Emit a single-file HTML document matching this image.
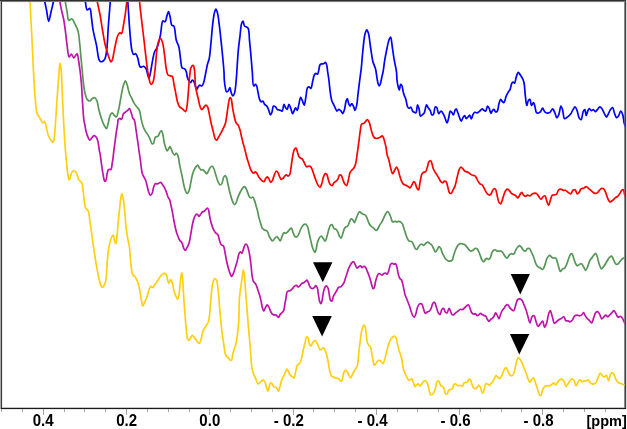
<!DOCTYPE html>
<html><head><meta charset="utf-8"><style>
html,body{margin:0;padding:0;background:#fff;}
body{width:627px;height:429px;overflow:hidden;position:relative;}
svg{position:absolute;left:0;top:0;display:block;}
text{font-family:"Liberation Sans",Arial,sans-serif;font-weight:bold;font-size:16px;fill:#000;}
</style></head><body>
<svg width="627" height="429" viewBox="0 0 627 429">
<defs><clipPath id="c"><rect x="1.6" y="0.8" width="623" height="406.8"/></clipPath></defs>
<g shape-rendering="crispEdges">
<rect x="2" y="2" width="622" height="1" fill="#f6f6f6"/>
<rect x="2" y="3" width="1" height="404" fill="#ececec"/>
<rect x="624" y="1" width="1" height="407" fill="#8a8a8a"/>
<rect x="2" y="407" width="622" height="1" fill="#c4c4c4"/>
</g>
<g clip-path="url(#c)" fill="none" stroke-width="1.7" stroke-linejoin="round" stroke-linecap="round">
<path d="M43.50,-10.00 C43.83,-6.67 44.00,-3.32 44.50,0.00 C45.00,3.35 45.82,6.56 46.50,10.00 C47.22,13.65 47.91,21.28 48.70,21.30 C49.42,21.32 50.22,15.30 51.00,12.00 C51.88,8.26 53.12,3.84 53.70,0.00 C54.23,-3.47 52.22,-7.89 54.50,-10.00 C58.41,-13.61 79.94,-13.60 84.00,-10.00 C86.37,-7.90 84.67,-3.32 85.20,0.00 C85.73,3.34 85.94,9.45 87.20,10.00 C87.89,10.30 89.13,8.10 89.80,8.40 C91.00,8.94 90.98,14.60 91.50,18.00 C92.09,21.82 92.34,25.93 93.10,30.20 C93.95,34.98 95.51,40.32 96.50,45.30 C97.46,50.12 97.83,57.03 99.00,59.60 C99.50,60.71 99.98,61.50 100.70,61.70 C101.44,61.90 102.67,61.23 103.40,60.70 C104.09,60.20 104.55,59.67 105.00,58.70 C105.83,56.92 106.22,53.87 106.70,50.30 C107.52,44.19 107.78,33.57 108.40,25.20 C109.02,16.81 109.95,6.49 110.40,0.00 C110.68,-4.09 109.02,-8.14 111.00,-10.00 C113.50,-12.35 124.48,-12.35 127.00,-10.00 C129.00,-8.14 127.35,-4.61 127.70,0.00 C128.49,10.34 130.12,42.84 131.90,50.30 C132.43,52.54 132.80,54.16 133.60,54.50 C134.15,54.74 135.01,53.48 135.60,53.70 C136.47,54.03 137.04,56.19 137.70,57.90 C138.64,60.34 138.82,66.24 140.30,67.10 C141.18,67.62 142.64,66.03 143.60,66.30 C144.58,66.58 145.44,67.67 146.10,68.80 C146.99,70.33 147.25,73.25 147.80,75.00 C148.21,76.31 148.62,78.42 149.00,78.40 C149.46,78.38 149.79,75.66 150.30,73.40 C151.36,68.76 152.86,56.30 154.50,52.00 C155.28,49.96 156.22,49.64 157.00,47.80 C158.28,44.79 159.43,39.55 160.40,35.20 C161.42,30.63 161.36,21.89 162.90,21.00 C163.52,20.64 164.49,22.10 165.10,21.80 C166.15,21.27 166.45,16.94 167.10,15.10 C167.57,13.76 168.04,11.68 168.50,11.70 C169.05,11.72 169.60,14.87 170.10,16.80 C170.73,19.24 170.73,23.91 171.80,25.20 C172.34,25.85 173.23,25.30 173.80,26.00 C175.28,27.83 175.23,36.47 176.30,40.30 C177.05,43.00 178.23,44.41 178.90,47.00 C179.76,50.32 179.91,55.03 180.50,58.70 C181.02,61.98 180.97,66.60 182.20,68.00 C182.85,68.74 184.03,68.24 184.70,68.80 C185.49,69.46 185.99,70.79 186.40,72.00 C186.87,73.38 186.77,75.20 187.20,76.70 C187.62,78.16 188.21,79.86 188.90,80.90 C189.40,81.66 190.07,82.66 190.60,82.60 C191.21,82.54 191.69,80.06 192.30,80.00 C192.83,79.94 193.52,80.90 194.00,81.70 C194.72,82.89 195.01,85.42 195.60,86.80 C196.03,87.81 196.56,89.31 197.00,89.30 C197.43,89.29 197.71,87.52 198.20,86.80 C198.65,86.14 199.20,85.21 199.80,85.10 C200.37,84.99 201.14,86.16 201.70,86.00 C202.38,85.81 202.92,84.52 203.40,83.40 C204.12,81.73 204.56,78.74 205.00,76.70 C205.37,75.00 205.54,73.78 205.90,72.00 C206.37,69.64 206.98,66.20 207.60,63.80 C208.10,61.89 208.74,60.88 209.20,58.70 C209.98,55.03 210.36,48.88 210.90,43.60 C211.50,37.77 211.96,30.65 212.60,25.20 C213.12,20.82 213.55,16.31 214.30,13.40 C214.76,11.61 215.35,9.21 215.90,9.20 C216.45,9.19 217.12,11.61 217.60,13.40 C218.38,16.30 218.76,21.02 219.30,25.20 C219.91,29.92 220.45,35.14 221.00,40.30 C221.58,45.73 222.19,51.58 222.70,57.00 C223.18,62.13 223.74,67.78 224.00,72.00 C224.19,75.08 224.08,77.45 224.30,80.00 C224.50,82.36 224.79,84.72 225.20,86.80 C225.55,88.61 225.75,91.45 226.50,91.80 C226.95,92.01 227.70,91.49 228.20,91.00 C228.91,90.31 229.42,87.55 229.90,87.60 C230.46,87.66 230.64,91.21 231.20,92.70 C231.67,93.95 232.33,95.98 232.90,96.00 C233.40,96.02 233.99,94.58 234.40,93.50 C235.02,91.85 235.26,89.36 235.60,86.80 C236.04,83.43 236.24,79.65 236.60,75.00 C237.12,68.27 237.64,57.28 238.30,50.30 C238.78,45.15 239.35,41.37 239.90,36.90 C240.45,32.43 240.73,26.15 241.60,23.50 C242.00,22.28 242.57,20.95 243.00,21.00 C243.57,21.06 243.74,25.10 244.50,26.00 C244.94,26.53 245.55,26.45 246.10,26.80 C246.78,27.23 247.66,27.51 248.20,28.50 C249.33,30.57 249.06,35.93 249.50,40.30 C250.05,45.75 250.71,53.06 251.20,58.70 C251.62,63.49 251.89,67.51 252.30,72.00 C252.72,76.61 252.59,85.61 253.70,86.00 C254.16,86.16 254.89,84.27 255.40,84.30 C255.88,84.33 256.34,85.21 256.70,86.00 C257.30,87.31 257.46,89.74 257.90,91.80 C258.41,94.16 258.85,97.60 259.60,99.40 C260.06,100.51 260.57,101.73 261.20,101.90 C261.71,102.03 262.40,100.84 262.90,101.00 C263.60,101.22 263.88,103.52 264.60,104.40 C265.22,105.15 266.16,105.31 266.80,106.10 C267.63,107.12 268.19,108.85 268.80,110.30 C269.43,111.81 269.91,114.94 270.50,115.00 C270.92,115.04 271.40,113.77 271.80,112.80 C272.46,111.21 272.53,106.59 273.50,106.10 C274.04,105.82 274.92,106.43 275.50,106.90 C276.19,107.45 276.54,108.89 277.20,109.40 C277.71,109.79 278.34,109.85 278.90,110.00 C279.44,110.14 279.97,110.13 280.50,110.30 C281.07,110.48 281.73,111.32 282.20,111.10 C283.11,110.67 283.22,104.47 283.90,104.40 C284.40,104.35 284.96,106.92 285.60,107.80 C286.09,108.48 286.73,109.51 287.20,109.40 C287.92,109.23 288.28,104.44 288.90,104.40 C289.43,104.36 290.05,106.50 290.60,107.80 C291.30,109.46 291.90,113.55 292.60,113.60 C293.15,113.64 293.77,111.32 294.30,110.30 C294.76,109.41 295.11,107.83 295.60,107.80 C296.11,107.77 296.81,110.39 297.30,110.30 C298.04,110.17 298.42,105.80 299.00,103.60 C299.56,101.47 300.03,97.36 300.70,97.30 C301.23,97.25 301.93,99.72 302.50,101.00 C303.10,102.35 303.70,105.25 304.20,105.20 C304.89,105.14 305.35,99.67 305.90,96.80 C306.48,93.81 306.58,88.96 307.60,87.60 C308.05,87.01 308.69,86.72 309.20,86.80 C309.79,86.90 310.42,88.63 310.90,88.50 C311.72,88.27 312.03,83.96 312.60,81.70 C313.16,79.46 313.50,76.41 314.30,75.00 C314.76,74.20 315.32,73.50 315.90,73.40 C316.43,73.31 317.15,74.40 317.60,74.20 C318.28,73.89 318.41,71.49 318.80,70.00 C319.24,68.32 319.32,65.55 320.10,64.60 C320.55,64.05 321.22,63.93 321.80,63.80 C322.35,63.68 322.94,63.98 323.50,63.80 C324.17,63.59 324.97,62.25 325.50,62.40 C326.11,62.57 326.46,64.18 326.80,65.40 C327.29,67.15 327.37,69.70 327.70,72.00 C328.06,74.54 328.52,77.07 328.90,80.00 C329.36,83.55 329.66,88.12 330.20,91.80 C330.68,95.07 331.14,98.72 331.90,101.00 C332.39,102.45 333.05,103.26 333.60,104.40 C334.15,105.53 334.65,106.68 335.20,107.80 C335.75,108.91 336.21,110.96 336.90,111.10 C337.48,111.21 338.21,109.42 338.90,109.40 C339.61,109.38 340.46,110.42 341.10,111.10 C341.77,111.81 342.28,113.66 342.80,113.60 C343.44,113.53 344.01,111.07 344.50,109.40 C345.18,107.11 345.46,102.95 346.10,101.00 C346.47,99.89 346.93,98.47 347.30,98.50 C347.82,98.55 348.16,102.22 348.70,103.60 C349.09,104.61 349.51,106.07 350.00,106.10 C350.51,106.13 351.13,103.60 351.70,103.60 C352.27,103.60 352.89,105.12 353.40,106.10 C354.02,107.29 354.47,110.31 355.00,110.30 C355.58,110.29 356.25,107.21 356.70,105.20 C357.32,102.45 357.50,98.54 357.90,95.20 C358.30,91.84 358.68,88.47 359.10,85.10 C359.52,81.73 360.01,78.06 360.40,75.00 C360.73,72.45 360.99,70.87 361.30,68.00 C361.80,63.45 362.26,56.11 362.90,50.30 C363.53,44.65 364.09,37.12 365.10,33.60 C365.60,31.87 366.23,29.90 366.80,29.90 C367.37,29.90 368.00,31.94 368.50,33.60 C369.40,36.63 369.78,42.41 370.50,47.00 C371.27,51.86 371.95,58.02 373.00,62.00 C373.73,64.75 374.87,66.42 375.50,68.80 C376.16,71.30 376.37,74.18 376.80,76.70 C377.20,79.03 377.46,81.73 378.00,83.40 C378.34,84.46 378.79,85.89 379.20,85.90 C379.62,85.91 380.12,84.47 380.50,83.40 C381.09,81.74 381.44,78.77 381.90,76.70 C382.30,74.91 382.72,73.71 383.10,71.70 C383.67,68.70 384.08,64.19 384.70,60.40 C385.34,56.53 386.14,52.27 386.90,48.70 C387.55,45.66 388.10,42.38 388.90,40.30 C389.41,38.97 390.12,37.12 390.60,37.20 C391.41,37.33 391.76,43.58 392.30,47.00 C392.89,50.72 393.33,54.68 394.00,58.70 C394.72,63.00 396.02,68.11 396.50,72.00 C396.87,74.99 396.70,77.45 397.00,80.00 C397.28,82.37 397.73,84.95 398.20,86.80 C398.53,88.11 398.94,90.12 399.30,90.10 C399.77,90.08 400.06,84.44 400.70,84.30 C401.07,84.22 401.64,85.14 402.00,85.90 C402.61,87.20 402.78,90.11 403.20,91.80 C403.52,93.10 403.79,94.02 404.20,95.20 C404.67,96.54 405.39,97.77 405.90,99.40 C406.56,101.52 406.74,105.46 407.60,106.90 C408.05,107.66 408.64,108.26 409.20,108.30 C409.74,108.34 410.41,107.05 410.90,107.20 C411.62,107.42 411.89,110.23 412.60,111.10 C413.10,111.71 413.72,112.01 414.30,112.30 C414.82,112.56 415.45,113.06 415.90,112.80 C416.88,112.23 416.97,104.95 417.60,104.90 C418.04,104.87 418.58,107.13 419.00,108.60 C419.59,110.64 419.54,115.73 420.50,116.10 C421.07,116.32 422.05,115.07 422.70,114.50 C423.30,113.97 423.82,113.66 424.30,112.80 C425.21,111.19 425.67,105.01 426.50,104.90 C427.03,104.83 427.57,106.89 428.20,107.80 C428.81,108.69 429.63,109.28 430.20,110.30 C430.91,111.57 431.13,114.72 431.90,115.00 C432.39,115.17 433.13,114.64 433.60,114.00 C434.50,112.77 434.29,107.32 435.20,106.90 C435.67,106.69 436.42,107.21 436.90,107.80 C437.75,108.84 437.74,113.38 438.60,113.60 C439.26,113.77 440.30,111.04 441.10,111.10 C441.97,111.17 442.91,113.26 443.60,114.50 C444.32,115.79 444.73,117.30 445.30,118.70 C445.87,120.10 446.46,122.92 447.00,122.90 C447.59,122.88 448.18,119.63 448.70,117.80 C449.29,115.73 449.50,111.33 450.30,111.10 C450.77,110.97 451.49,112.17 452.00,112.80 C452.53,113.46 452.97,115.05 453.40,115.00 C454.00,114.93 454.39,111.37 455.00,110.30 C455.37,109.65 455.81,108.84 456.20,108.90 C456.79,108.99 457.36,111.41 457.90,112.80 C458.50,114.35 459.00,116.31 459.60,117.80 C460.11,119.06 460.65,121.19 461.20,121.20 C461.75,121.21 462.28,118.78 462.90,117.80 C463.43,116.96 464.06,115.56 464.60,115.60 C465.21,115.65 465.67,118.61 466.30,118.70 C466.82,118.77 467.46,117.61 468.00,117.00 C468.56,116.37 469.11,114.93 469.60,115.00 C470.24,115.09 470.75,119.01 471.30,119.00 C471.88,118.99 472.33,115.70 473.00,114.50 C473.51,113.59 473.98,112.57 474.70,112.30 C475.39,112.04 476.40,112.96 477.20,112.80 C478.07,112.62 478.89,111.73 479.70,111.10 C480.55,110.44 481.44,108.91 482.20,108.90 C482.82,108.89 483.31,109.93 483.90,110.30 C484.45,110.65 485.10,111.30 485.60,111.10 C486.45,110.76 486.88,106.18 487.60,106.10 C488.14,106.04 488.80,107.60 489.30,108.60 C489.94,109.89 490.29,113.24 490.90,113.30 C491.41,113.35 491.97,110.96 492.60,110.30 C493.04,109.84 493.56,109.30 494.00,109.40 C494.58,109.53 494.97,111.72 495.60,111.90 C496.10,112.05 496.83,111.69 497.30,111.10 C498.25,109.91 498.34,105.72 499.00,103.60 C499.51,101.97 500.06,99.49 500.70,99.40 C501.19,99.33 501.75,100.92 502.30,101.50 C502.76,101.98 503.29,102.78 503.70,102.70 C504.21,102.60 504.62,101.14 505.00,100.20 C505.45,99.08 505.61,97.67 506.10,96.40 C506.63,95.04 507.39,93.54 508.10,92.30 C508.73,91.20 509.54,90.53 510.10,89.30 C510.85,87.67 511.02,84.32 511.80,83.20 C512.21,82.62 512.73,82.20 513.20,82.20 C513.67,82.20 514.20,83.35 514.60,83.20 C515.37,82.92 515.54,78.98 516.20,77.10 C516.80,75.40 517.53,72.48 518.30,72.40 C518.92,72.33 519.64,74.17 520.30,75.10 C520.98,76.07 521.72,76.99 522.30,78.10 C522.94,79.33 523.46,80.38 523.90,82.20 C524.70,85.47 524.85,92.20 525.40,96.40 C525.84,99.78 526.20,105.45 526.80,105.50 C527.26,105.53 527.64,101.39 528.40,100.40 C528.85,99.81 529.56,99.22 530.00,99.40 C530.79,99.73 530.68,105.36 531.40,105.50 C531.95,105.61 532.93,102.42 533.50,102.50 C534.12,102.58 534.45,105.02 534.90,106.50 C535.45,108.31 535.56,111.71 536.50,112.60 C537.03,113.10 537.85,113.13 538.50,113.00 C539.22,112.86 539.98,112.27 540.60,111.60 C541.39,110.76 541.93,108.10 542.60,108.10 C543.27,108.10 543.81,110.76 544.60,111.60 C545.22,112.27 545.90,112.81 546.70,113.00 C547.58,113.20 548.79,113.11 549.70,112.60 C550.84,111.96 551.83,108.83 552.70,108.90 C553.52,108.97 554.15,111.24 554.80,112.60 C555.53,114.14 556.05,117.63 556.80,117.70 C557.41,117.76 558.22,115.95 558.80,114.60 C559.70,112.52 560.14,106.17 560.90,106.10 C561.41,106.05 562.01,108.13 562.50,109.60 C563.27,111.89 563.37,118.16 564.50,118.70 C565.05,118.96 565.84,118.10 566.50,117.70 C567.21,117.27 567.91,116.81 568.60,116.20 C569.41,115.49 570.30,114.62 571.00,113.60 C571.79,112.46 572.26,110.77 573.00,109.60 C573.65,108.58 574.45,106.85 575.10,106.90 C575.82,106.96 576.50,109.13 577.10,110.60 C577.89,112.55 578.18,116.13 579.10,117.70 C579.67,118.67 580.53,119.86 581.10,119.70 C582.08,119.43 582.33,113.34 583.20,111.60 C583.68,110.64 584.36,109.50 584.80,109.60 C585.49,109.76 585.68,115.57 586.20,115.60 C586.63,115.62 587.07,112.83 587.60,111.60 C588.08,110.48 588.55,108.60 589.20,108.50 C589.80,108.41 590.56,110.48 591.30,110.60 C591.94,110.70 592.67,109.50 593.30,109.60 C594.01,109.72 594.62,111.59 595.30,111.60 C595.99,111.61 596.69,110.33 597.40,109.60 C598.19,108.78 599.00,106.97 599.80,106.90 C600.47,106.84 601.20,107.76 601.80,108.50 C602.61,109.49 603.14,111.21 603.90,112.60 C604.70,114.08 605.69,117.10 606.50,117.10 C607.21,117.10 607.85,114.81 608.50,113.60 C609.18,112.32 609.73,110.67 610.50,109.60 C611.13,108.73 612.00,107.36 612.60,107.50 C613.48,107.71 613.87,111.79 614.60,113.60 C615.22,115.13 615.82,117.57 616.60,117.70 C617.23,117.81 618.08,116.51 618.70,115.60 C619.50,114.42 620.00,111.03 620.70,111.00 C621.34,110.97 622.17,113.11 622.70,114.60 C623.44,116.71 623.47,120.31 624.10,122.70 C624.62,124.68 625.37,126.23 626.00,128.00" stroke="#0000ff"/>
<path d="M96.00,-10.00 C96.33,-6.67 96.45,-3.63 97.00,0.00 C97.67,4.40 99.09,9.58 100.00,14.50 C100.93,19.57 101.65,24.97 102.50,30.00 C103.31,34.79 104.06,39.87 105.00,44.00 C105.76,47.35 106.68,50.31 107.50,53.00 C108.18,55.21 108.85,57.36 109.50,59.00 C109.97,60.19 110.39,61.96 110.90,62.00 C111.34,62.04 111.88,60.98 112.30,60.00 C113.15,58.03 113.66,53.41 114.30,50.30 C114.89,47.43 115.40,44.53 116.00,42.00 C116.51,39.83 116.85,37.65 117.60,36.00 C118.20,34.68 119.02,32.90 119.80,32.70 C120.34,32.56 121.01,33.82 121.50,33.60 C122.53,33.13 122.83,28.72 123.50,25.20 C124.60,19.36 126.15,8.19 126.80,1.70 C127.26,-2.86 125.44,-8.06 127.50,-10.00 C129.54,-11.92 137.08,-11.85 139.00,-10.00 C140.79,-8.28 139.07,-4.36 139.40,0.00 C140.04,8.29 142.10,24.00 143.50,36.00 C144.90,48.00 146.79,65.26 147.80,72.00 C148.20,74.64 148.43,75.71 148.80,77.50 C149.16,79.24 149.40,81.36 150.00,82.60 C150.41,83.44 151.01,84.54 151.50,84.50 C152.08,84.46 152.72,82.88 153.20,81.50 C154.09,78.96 154.38,74.63 155.00,70.00 C155.93,63.01 156.38,48.97 157.90,43.60 C158.61,41.08 159.59,38.32 160.40,38.30 C161.08,38.28 161.83,40.32 162.40,42.00 C163.43,45.02 163.95,50.91 164.60,55.40 C165.25,59.91 165.57,65.40 166.30,69.00 C166.79,71.43 167.00,73.93 168.00,75.00 C168.65,75.70 169.72,75.60 170.50,75.90 C171.21,76.17 171.99,76.08 172.50,76.70 C173.42,77.81 173.33,81.04 173.80,83.40 C174.32,86.04 174.91,88.87 175.50,91.80 C176.14,95.01 176.64,99.16 177.50,101.90 C178.13,103.90 178.74,105.75 179.70,106.90 C180.41,107.75 181.47,108.00 182.20,108.60 C182.85,109.14 183.32,109.79 183.90,110.30 C184.45,110.78 185.14,111.75 185.60,111.60 C186.29,111.37 186.54,108.84 186.90,106.90 C187.47,103.89 187.72,99.36 188.10,95.20 C188.53,90.47 188.84,84.65 189.30,80.00 C189.69,76.03 190.00,71.34 190.60,69.00 C190.89,67.84 191.12,67.12 191.60,66.50 C192.00,65.99 192.68,65.26 193.10,65.40 C193.77,65.62 194.13,67.96 194.50,70.00 C195.20,73.82 194.88,81.73 195.60,86.80 C196.21,91.08 197.38,94.93 198.20,98.50 C198.90,101.53 199.40,104.92 200.20,106.90 C200.68,108.10 201.21,109.53 201.80,109.60 C202.32,109.66 202.89,108.46 203.50,107.80 C204.23,107.01 205.16,105.21 205.90,105.20 C206.51,105.19 207.13,106.05 207.60,106.90 C208.40,108.33 208.68,111.24 209.20,113.60 C209.78,116.24 210.24,119.08 210.90,122.00 C211.62,125.22 212.62,129.07 213.40,132.10 C214.04,134.59 214.41,137.58 215.20,138.90 C215.61,139.59 216.14,140.26 216.60,140.20 C217.18,140.13 217.68,138.60 218.30,137.60 C219.11,136.27 220.14,134.50 221.00,132.90 C221.87,131.27 222.74,129.58 223.50,127.90 C224.24,126.25 224.97,124.77 225.50,122.90 C226.13,120.66 226.36,118.11 226.80,115.30 C227.35,111.82 227.88,106.83 228.50,103.60 C228.94,101.29 229.22,97.95 229.90,97.70 C230.22,97.58 230.68,97.98 231.00,98.50 C231.89,99.94 232.11,105.39 232.70,108.60 C233.24,111.53 233.78,114.46 234.40,117.00 C234.93,119.15 235.29,121.41 236.10,122.90 C236.70,123.99 237.69,124.39 238.30,125.40 C239.00,126.57 239.41,127.98 239.90,129.60 C240.54,131.72 241.07,134.87 241.60,137.10 C242.03,138.91 242.32,140.17 242.80,142.00 C243.41,144.35 244.35,147.44 245.00,150.00 C245.60,152.35 245.98,154.55 246.60,156.80 C247.22,159.05 248.04,161.43 248.70,163.50 C249.27,165.29 249.70,167.01 250.30,168.50 C250.81,169.76 251.33,171.08 252.00,171.90 C252.51,172.51 253.13,173.20 253.70,173.20 C254.27,173.20 254.86,171.86 255.40,171.90 C255.96,171.95 256.50,172.90 257.00,173.60 C257.63,174.49 258.05,175.91 258.70,176.90 C259.30,177.82 260.04,178.66 260.70,179.40 C261.27,180.04 261.78,180.73 262.40,181.10 C262.93,181.41 263.60,181.81 264.10,181.60 C264.82,181.29 265.15,179.12 265.80,178.30 C266.29,177.68 266.89,176.84 267.40,176.90 C268.00,176.98 268.55,178.53 269.10,179.40 C269.68,180.32 270.19,182.25 270.80,182.30 C271.34,182.35 272.00,181.18 272.50,180.30 C273.21,179.04 273.54,176.80 274.20,175.20 C274.82,173.71 275.55,171.12 276.30,171.00 C276.84,170.91 277.50,171.94 278.00,172.70 C278.69,173.74 279.06,175.71 279.70,176.90 C280.22,177.87 280.76,179.27 281.40,179.40 C281.92,179.51 282.58,178.79 283.10,178.30 C283.70,177.73 284.11,176.69 284.70,176.10 C285.22,175.59 285.83,174.90 286.40,174.90 C286.97,174.90 287.55,176.15 288.10,176.10 C288.69,176.05 289.36,175.23 289.80,174.40 C290.49,173.09 290.54,170.73 290.90,168.50 C291.37,165.61 291.80,161.51 292.30,158.50 C292.71,156.01 293.08,153.49 293.60,151.70 C293.96,150.48 294.27,149.28 294.80,148.70 C295.14,148.33 295.65,147.96 296.00,148.10 C296.59,148.33 296.85,150.39 297.30,151.70 C297.84,153.25 298.25,155.66 299.00,156.80 C299.49,157.54 300.11,157.92 300.70,158.30 C301.22,158.63 301.84,158.58 302.30,159.00 C302.89,159.53 303.26,160.63 303.70,161.50 C304.16,162.40 304.50,163.41 305.00,164.30 C305.50,165.18 306.01,166.59 306.70,166.80 C307.28,166.98 308.06,166.03 308.70,166.00 C309.28,165.97 309.90,166.11 310.40,166.50 C311.09,167.04 311.58,168.27 312.10,169.40 C312.75,170.81 313.20,172.67 313.80,174.40 C314.46,176.29 315.16,178.43 315.90,180.30 C316.59,182.05 317.25,184.06 318.10,185.30 C318.71,186.19 319.52,187.40 320.10,187.30 C320.79,187.18 321.29,185.04 321.80,183.60 C322.46,181.72 322.81,178.71 323.50,176.90 C324.00,175.57 324.51,173.82 325.20,173.60 C325.68,173.44 326.35,173.85 326.80,174.40 C327.64,175.41 327.88,178.51 328.50,180.30 C329.03,181.83 329.42,183.62 330.20,184.50 C330.76,185.13 331.62,185.75 332.20,185.60 C332.89,185.41 333.21,183.57 333.90,182.80 C334.53,182.09 335.43,181.69 336.10,181.10 C336.72,180.55 337.31,180.16 337.80,179.40 C338.47,178.36 338.63,175.73 339.40,175.20 C339.88,174.87 340.62,174.87 341.10,175.20 C341.89,175.73 342.23,178.00 342.80,179.40 C343.37,180.80 343.76,182.51 344.50,183.60 C345.09,184.47 346.02,185.75 346.60,185.60 C347.40,185.40 347.77,182.24 348.30,180.30 C348.92,178.01 349.22,174.50 350.00,172.70 C350.48,171.58 351.07,170.96 351.70,170.20 C352.31,169.46 353.11,169.08 353.70,168.20 C354.50,167.02 355.18,165.33 355.70,163.50 C356.37,161.14 356.58,157.90 357.00,155.10 C357.42,152.30 357.83,149.34 358.20,146.70 C358.53,144.34 358.80,142.33 359.10,140.00 C359.43,137.48 359.67,134.74 360.10,132.10 C360.54,129.41 360.62,125.17 361.70,124.00 C362.26,123.40 363.16,123.80 363.80,123.40 C364.55,122.94 365.17,121.88 365.80,121.20 C366.36,120.59 366.88,119.46 367.40,119.50 C367.99,119.55 368.62,120.98 369.10,122.00 C369.72,123.34 370.02,125.26 370.50,127.00 C371.02,128.88 371.50,131.12 372.10,132.90 C372.62,134.44 372.97,136.15 373.80,137.10 C374.46,137.85 375.47,138.38 376.30,138.50 C377.04,138.61 377.80,138.24 378.50,138.00 C379.19,137.77 379.88,137.47 380.50,137.10 C381.11,136.73 381.70,135.71 382.20,135.80 C382.75,135.90 383.21,137.12 383.60,138.00 C384.09,139.11 384.33,140.61 384.70,142.00 C385.10,143.50 385.53,144.90 385.90,146.70 C386.39,149.09 386.61,152.68 387.20,155.10 C387.67,157.00 388.38,158.24 388.90,160.10 C389.53,162.35 389.94,165.34 390.60,167.70 C391.19,169.81 391.85,173.51 392.60,173.60 C393.13,173.67 393.71,171.96 394.30,171.00 C395.00,169.86 395.82,167.20 396.50,167.20 C397.11,167.20 397.70,169.00 398.20,170.20 C398.86,171.80 399.23,174.22 399.80,176.10 C400.33,177.84 400.85,179.69 401.50,181.10 C402.02,182.23 402.48,183.34 403.20,184.00 C403.80,184.55 404.56,184.61 405.30,185.00 C406.17,185.46 407.25,186.10 408.10,186.60 C408.83,187.02 409.50,187.95 410.10,187.80 C410.87,187.61 411.46,185.57 412.10,184.50 C412.69,183.50 413.21,181.64 413.80,181.60 C414.32,181.56 414.94,182.76 415.40,183.60 C416.00,184.70 416.19,186.66 416.80,187.80 C417.28,188.70 418.03,190.11 418.50,190.00 C419.31,189.81 419.54,184.54 420.10,181.90 C420.64,179.35 421.00,176.10 421.80,174.40 C422.28,173.38 422.82,172.60 423.50,172.20 C424.08,171.86 424.95,172.33 425.50,171.90 C426.33,171.25 426.67,169.23 427.20,167.70 C427.82,165.91 428.11,162.99 428.90,161.80 C429.36,161.11 430.04,160.39 430.50,160.50 C431.08,160.63 431.49,162.35 431.90,163.50 C432.42,164.93 432.64,167.02 433.20,168.50 C433.68,169.77 434.27,170.82 434.90,171.90 C435.51,172.95 436.25,173.86 436.90,174.90 C437.58,175.99 438.21,177.15 438.90,178.30 C439.61,179.49 440.30,181.15 441.10,181.90 C441.64,182.41 442.26,182.88 442.80,182.80 C443.40,182.71 443.89,181.25 444.50,181.10 C445.01,180.98 445.65,181.15 446.10,181.60 C446.93,182.43 447.24,185.16 447.80,187.00 C448.38,188.92 448.62,192.01 449.50,192.90 C449.98,193.38 450.70,193.61 451.20,193.40 C451.90,193.11 452.31,191.42 452.90,190.30 C453.57,189.01 454.39,187.78 455.00,186.10 C455.83,183.84 456.31,180.53 457.00,177.80 C457.68,175.13 458.30,171.80 459.10,169.90 C459.60,168.72 460.07,167.36 460.70,167.20 C461.20,167.07 461.84,167.71 462.40,168.20 C463.15,168.86 463.78,170.38 464.60,171.00 C465.27,171.51 466.08,171.61 466.80,171.90 C467.48,172.18 468.16,172.32 468.80,172.70 C469.50,173.12 470.13,173.97 470.80,174.40 C471.37,174.76 471.88,175.00 472.50,175.20 C473.17,175.42 474.09,175.21 474.70,175.60 C475.38,176.03 475.79,176.97 476.30,177.80 C476.90,178.77 477.40,180.09 478.00,181.10 C478.54,182.01 478.99,182.95 479.70,183.60 C480.39,184.24 481.51,184.34 482.20,185.00 C482.93,185.71 483.35,186.81 483.90,187.80 C484.49,188.87 485.01,190.17 485.60,191.20 C486.12,192.11 486.59,193.04 487.20,193.70 C487.71,194.26 488.30,194.89 488.90,195.00 C489.44,195.10 490.10,194.91 490.60,194.50 C491.32,193.91 491.70,192.21 492.30,191.20 C492.84,190.29 493.36,188.87 494.00,188.70 C494.49,188.57 495.15,188.94 495.60,189.50 C496.49,190.60 496.72,194.01 497.30,196.20 C497.86,198.31 498.23,201.13 499.00,202.40 C499.44,203.12 500.04,203.88 500.50,203.80 C501.07,203.71 501.57,202.04 502.00,201.00 C502.49,199.81 502.73,198.42 503.20,197.00 C503.74,195.35 504.33,193.11 505.10,191.70 C505.69,190.62 506.37,189.24 507.10,189.10 C507.72,188.98 508.48,189.74 509.10,190.30 C509.86,190.99 510.44,192.39 511.20,193.10 C511.83,193.69 512.52,194.04 513.20,194.40 C513.85,194.74 514.53,194.76 515.20,195.20 C516.07,195.77 517.02,197.87 517.80,197.80 C518.58,197.73 519.22,195.75 519.90,194.80 C520.52,193.93 521.13,192.28 521.70,192.30 C522.26,192.32 522.66,194.10 523.30,194.80 C523.90,195.46 524.70,196.36 525.40,196.40 C526.06,196.44 526.66,195.32 527.40,195.20 C528.19,195.08 529.18,195.99 530.00,195.80 C530.89,195.60 531.63,194.25 532.50,193.80 C533.27,193.40 534.14,193.08 534.90,193.10 C535.60,193.12 536.30,193.34 536.90,193.80 C537.68,194.41 538.19,195.88 538.90,196.80 C539.56,197.67 540.31,199.21 541.00,199.20 C541.68,199.19 542.27,197.38 543.00,196.80 C543.62,196.31 544.45,195.57 545.00,195.80 C545.85,196.15 546.06,199.28 546.70,200.90 C547.30,202.44 548.11,205.33 548.70,205.30 C549.31,205.27 549.71,202.05 550.30,200.40 C550.91,198.68 551.35,196.00 552.30,195.20 C552.89,194.71 553.71,194.93 554.40,194.80 C555.08,194.67 555.80,194.86 556.40,194.40 C557.37,193.67 557.82,190.50 558.80,189.70 C559.43,189.18 560.19,189.03 560.90,189.10 C561.69,189.17 562.51,190.11 563.30,190.30 C563.98,190.46 564.62,190.08 565.30,190.30 C566.18,190.59 567.09,191.70 568.00,192.30 C568.86,192.86 569.82,193.98 570.60,193.80 C571.53,193.59 572.10,190.95 573.00,190.30 C573.65,189.83 574.50,189.43 575.10,189.70 C575.97,190.09 576.30,193.61 577.10,193.80 C577.69,193.94 578.50,192.99 579.10,192.30 C579.87,191.41 580.21,189.32 581.10,188.70 C581.80,188.21 582.79,188.60 583.60,188.30 C584.49,187.97 585.35,186.66 586.20,186.70 C587.08,186.75 587.92,187.99 588.80,188.70 C589.75,189.46 590.75,190.34 591.70,191.10 C592.58,191.81 593.37,192.78 594.30,193.10 C595.15,193.39 596.20,193.47 597.00,193.10 C597.94,192.67 598.56,191.12 599.40,190.30 C600.17,189.54 600.99,188.44 601.80,188.30 C602.49,188.18 603.29,188.55 603.90,189.10 C604.75,189.87 605.28,191.63 605.90,193.10 C606.62,194.81 607.13,197.22 607.90,198.80 C608.50,200.03 609.07,201.69 609.90,201.90 C610.66,202.09 611.75,201.04 612.60,200.40 C613.53,199.70 614.30,198.49 615.20,197.80 C615.98,197.20 616.88,197.02 617.60,196.40 C618.39,195.72 619.04,194.76 619.70,193.80 C620.42,192.75 620.94,190.95 621.70,190.30 C622.19,189.88 622.86,189.48 623.30,189.70 C624.07,190.09 624.19,193.31 624.70,194.80 C625.11,196.00 625.57,196.93 626.00,198.00" stroke="#ff0000"/>
<path d="M64.50,-10.00 C64.70,-6.67 64.70,-3.45 65.10,0.00 C65.53,3.76 66.44,8.08 67.10,11.70 C67.67,14.85 67.59,19.94 68.80,20.50 C69.55,20.85 70.90,18.57 71.80,18.80 C72.93,19.09 73.76,21.71 74.70,23.50 C75.84,25.68 77.19,28.11 78.00,31.00 C79.01,34.60 79.19,39.12 79.70,43.60 C80.28,48.70 80.74,55.21 81.20,60.00 C81.56,63.74 81.88,66.67 82.20,70.00 C82.52,73.33 82.71,76.53 83.10,80.00 C83.53,83.78 83.90,88.33 84.70,91.80 C85.35,94.64 86.01,97.90 87.20,99.40 C87.93,100.33 88.98,101.10 89.80,101.00 C90.68,100.90 91.39,99.05 92.30,98.50 C93.08,98.02 94.07,97.45 94.80,97.70 C95.69,98.01 96.39,99.55 97.00,101.00 C97.95,103.25 98.23,107.29 99.00,110.30 C99.74,113.19 100.58,116.08 101.50,118.70 C102.33,121.08 103.25,123.60 104.20,125.40 C104.91,126.74 105.78,128.78 106.40,128.70 C107.12,128.61 107.55,125.60 108.10,123.70 C108.80,121.28 109.17,117.21 110.10,115.30 C110.67,114.14 111.41,112.82 112.10,112.80 C112.81,112.78 113.56,114.57 114.30,115.30 C114.96,115.95 115.72,117.16 116.30,117.00 C117.26,116.73 117.82,112.95 118.50,110.30 C119.44,106.61 120.14,101.13 121.00,96.80 C121.81,92.75 122.52,87.98 123.50,85.10 C124.11,83.30 124.88,80.88 125.50,80.90 C126.11,80.92 126.65,83.44 127.20,85.10 C127.96,87.40 128.50,91.10 129.40,93.50 C130.12,95.42 131.07,96.82 131.90,98.50 C132.74,100.19 133.49,102.12 134.40,103.60 C135.18,104.86 136.07,105.79 136.90,106.90 C137.74,108.02 138.75,108.82 139.40,110.30 C140.33,112.40 140.50,116.07 141.10,118.70 C141.64,121.07 142.08,123.27 142.80,125.40 C143.49,127.43 144.36,129.57 145.30,131.20 C146.06,132.53 147.04,133.36 147.80,134.60 C148.62,135.94 149.31,137.49 150.00,139.00 C150.71,140.55 151.17,143.39 152.00,143.80 C152.45,144.02 153.06,143.82 153.50,143.40 C154.40,142.53 154.35,138.17 155.40,137.10 C156.07,136.42 157.19,136.90 157.90,136.30 C158.86,135.50 159.35,133.08 160.10,132.10 C160.59,131.45 161.18,130.59 161.60,130.70 C162.19,130.85 162.53,133.08 162.90,134.60 C163.41,136.66 163.62,139.82 164.10,142.00 C164.48,143.76 164.89,145.19 165.40,146.70 C165.89,148.15 166.46,150.83 167.10,150.90 C167.62,150.96 168.26,149.15 168.80,148.40 C169.25,147.77 169.70,146.66 170.10,146.70 C170.55,146.75 170.88,148.25 171.30,149.20 C171.84,150.41 172.31,152.36 173.00,153.40 C173.50,154.16 174.16,155.13 174.70,155.10 C175.26,155.07 175.78,153.07 176.30,153.10 C176.89,153.14 177.52,154.64 178.00,155.90 C178.82,158.05 179.07,162.05 179.70,165.20 C180.36,168.48 181.20,171.85 181.90,175.20 C182.60,178.55 183.20,182.40 183.90,185.30 C184.44,187.54 184.89,189.75 185.60,191.20 C186.07,192.16 186.65,193.39 187.20,193.40 C187.75,193.41 188.42,192.23 188.90,191.20 C189.71,189.48 190.05,186.20 190.60,183.60 C191.18,180.87 191.65,177.62 192.30,175.20 C192.81,173.30 193.32,171.68 194.00,170.20 C194.58,168.92 195.29,167.68 196.00,166.80 C196.54,166.12 197.18,165.14 197.70,165.20 C198.29,165.27 198.74,166.91 199.30,167.70 C199.84,168.47 200.31,169.56 201.00,169.90 C201.58,170.19 202.38,169.64 203.00,169.90 C203.74,170.20 204.37,171.22 205.00,171.90 C205.60,172.55 206.16,173.95 206.70,173.90 C207.31,173.85 207.85,172.01 208.40,171.00 C208.98,169.94 209.41,168.57 210.10,167.70 C210.68,166.97 211.50,165.92 212.10,166.00 C212.74,166.09 213.28,167.42 213.80,168.50 C214.60,170.15 215.18,172.97 215.90,175.20 C216.62,177.44 217.26,180.13 218.10,181.90 C218.71,183.18 219.40,184.89 220.10,185.00 C220.64,185.08 221.30,184.35 221.80,183.60 C222.69,182.26 222.98,178.21 223.80,176.90 C224.23,176.21 224.78,175.54 225.20,175.60 C225.69,175.67 226.11,176.81 226.50,177.80 C227.18,179.52 227.60,182.73 228.20,185.30 C228.83,188.02 229.49,191.07 230.20,193.70 C230.84,196.07 231.41,198.46 232.20,200.40 C232.85,202.00 233.63,204.48 234.40,204.60 C234.95,204.68 235.62,203.69 236.10,202.90 C236.81,201.73 237.05,199.62 237.70,197.90 C238.42,196.00 239.38,193.77 240.30,192.00 C241.10,190.45 241.95,188.72 242.80,187.80 C243.36,187.20 243.98,186.52 244.50,186.60 C245.09,186.69 245.61,187.84 246.10,188.70 C246.74,189.83 247.23,191.51 247.80,192.90 C248.36,194.28 248.76,196.18 249.50,197.00 C249.99,197.54 250.63,197.90 251.20,197.90 C251.77,197.90 252.41,196.84 252.90,197.00 C253.58,197.23 254.01,199.09 254.50,200.40 C255.13,202.08 255.65,204.40 256.20,206.30 C256.72,208.09 257.28,209.76 257.70,211.50 C258.11,213.22 258.25,214.87 258.70,216.70 C259.22,218.80 260.04,221.32 260.70,223.40 C261.28,225.22 261.56,227.36 262.40,228.50 C263.00,229.31 263.81,229.68 264.60,230.10 C265.38,230.51 266.44,230.37 267.10,231.00 C267.96,231.83 268.20,233.90 268.80,235.20 C269.34,236.38 269.85,237.51 270.50,238.50 C271.10,239.42 271.81,240.98 272.50,241.00 C273.21,241.02 273.96,239.27 274.70,238.50 C275.39,237.78 276.15,236.47 276.80,236.50 C277.42,236.53 277.95,237.78 278.50,238.50 C279.09,239.27 279.66,241.06 280.20,241.00 C280.92,240.92 281.52,237.48 282.20,236.00 C282.76,234.77 283.15,233.04 283.90,232.70 C284.46,232.45 285.29,233.34 285.90,233.20 C286.53,233.06 287.02,232.36 287.60,231.80 C288.31,231.11 289.09,229.95 289.80,229.30 C290.35,228.79 290.93,227.96 291.40,228.10 C292.13,228.32 292.44,231.23 293.10,232.70 C293.74,234.13 294.40,236.35 295.30,236.80 C295.89,237.10 296.73,236.89 297.30,236.50 C298.04,235.99 298.49,234.59 299.00,233.50 C299.57,232.28 299.93,230.72 300.50,229.50 C301.01,228.41 301.58,227.36 302.20,226.50 C302.73,225.76 303.24,224.96 303.90,224.60 C304.49,224.28 305.32,224.05 305.90,224.30 C306.60,224.61 307.12,225.71 307.60,226.80 C308.33,228.45 308.67,231.19 309.20,233.50 C309.77,235.95 310.32,238.65 310.90,241.10 C311.45,243.41 311.87,245.82 312.60,247.80 C313.22,249.48 314.18,252.29 314.80,252.30 C315.22,252.31 315.56,251.23 315.90,250.30 C316.56,248.49 316.82,244.26 317.60,241.90 C318.21,240.07 318.97,238.19 319.80,237.20 C320.33,236.57 320.98,235.90 321.50,236.00 C322.14,236.12 322.59,237.76 323.20,238.60 C323.82,239.46 324.63,241.19 325.20,241.10 C325.87,240.99 326.27,238.52 326.80,236.90 C327.50,234.75 328.20,231.45 328.90,229.30 C329.43,227.68 329.73,225.74 330.50,225.10 C330.98,224.71 331.71,224.54 332.20,224.80 C332.95,225.19 333.11,227.77 333.90,228.50 C334.50,229.05 335.48,228.81 336.10,229.30 C336.81,229.85 337.29,230.82 337.80,231.80 C338.42,232.99 338.76,234.86 339.40,236.00 C339.90,236.90 340.59,238.28 341.10,238.20 C341.78,238.09 342.24,235.09 342.80,233.50 C343.37,231.86 343.79,229.68 344.50,228.50 C344.97,227.72 345.51,227.22 346.10,226.80 C346.62,226.42 347.31,226.52 347.80,226.00 C348.56,225.20 348.89,223.06 349.50,221.80 C350.03,220.70 350.55,218.93 351.20,218.80 C351.71,218.70 352.39,219.54 352.90,220.10 C353.51,220.76 354.00,222.65 354.50,222.60 C355.12,222.54 355.63,219.80 356.20,218.40 C356.77,217.00 357.26,215.39 357.90,214.20 C358.42,213.23 359.00,211.78 359.60,211.70 C360.11,211.64 360.60,212.69 361.20,213.10 C361.85,213.54 362.68,213.86 363.40,214.20 C364.08,214.52 364.83,214.56 365.40,215.10 C366.14,215.80 366.54,217.16 367.10,218.40 C367.78,219.90 368.31,222.07 369.10,223.50 C369.75,224.68 370.47,225.70 371.30,226.50 C372.05,227.23 372.99,227.56 373.80,228.20 C374.66,228.88 375.57,230.54 376.30,230.50 C376.94,230.46 377.48,229.29 378.00,228.50 C378.63,227.55 379.06,226.21 379.70,225.10 C380.36,223.97 381.22,222.99 381.90,221.80 C382.63,220.51 383.23,219.00 383.90,217.60 C384.57,216.20 385.16,214.44 385.90,213.40 C386.43,212.65 387.03,211.70 387.60,211.70 C388.17,211.70 388.81,212.64 389.30,213.40 C389.97,214.44 390.35,216.20 390.90,217.60 C391.45,219.00 391.75,221.33 392.60,221.80 C393.19,222.13 394.07,221.40 394.80,221.40 C395.53,221.40 396.28,221.81 397.00,221.80 C397.68,221.79 398.35,221.31 399.00,221.40 C399.68,221.49 400.40,221.94 401.00,222.40 C401.64,222.89 402.30,223.57 402.70,224.30 C403.10,225.04 403.11,225.83 403.40,226.80 C403.82,228.18 404.43,230.07 405.00,231.80 C405.62,233.69 406.20,236.04 407.00,237.70 C407.65,239.04 408.29,240.48 409.20,241.10 C409.92,241.59 411.02,241.13 411.70,241.60 C412.47,242.14 412.87,243.37 413.40,244.40 C414.01,245.57 414.39,247.43 415.10,248.30 C415.60,248.91 416.28,249.60 416.80,249.50 C417.44,249.38 417.89,247.74 418.50,246.90 C419.12,246.04 419.78,244.75 420.50,244.40 C421.01,244.16 421.57,244.27 422.10,244.40 C422.68,244.54 423.26,245.38 423.80,245.30 C424.40,245.21 424.87,244.11 425.50,243.60 C426.16,243.07 426.97,242.20 427.70,242.20 C428.43,242.20 429.20,243.08 429.90,243.60 C430.60,244.12 431.32,244.57 431.90,245.30 C432.59,246.17 433.05,247.49 433.60,248.60 C434.15,249.72 434.57,251.89 435.20,252.00 C435.70,252.09 436.36,251.02 436.90,250.30 C437.61,249.34 438.19,246.70 438.90,246.60 C439.44,246.52 440.10,247.53 440.60,248.30 C441.30,249.39 441.70,251.42 442.30,252.80 C442.84,254.03 443.43,255.13 444.00,256.20 C444.53,257.19 444.93,258.23 445.60,259.00 C446.22,259.71 447.02,260.33 447.80,260.70 C448.50,261.03 449.29,261.26 450.00,261.20 C450.69,261.15 451.45,260.98 452.00,260.40 C452.86,259.48 453.11,257.05 453.70,255.30 C454.34,253.43 454.94,251.25 455.70,249.50 C456.36,247.96 457.04,246.33 457.90,245.30 C458.56,244.51 459.31,243.81 460.10,243.60 C460.82,243.41 461.64,243.77 462.40,243.90 C463.14,244.03 463.93,244.00 464.60,244.40 C465.42,244.89 466.10,246.05 466.80,246.90 C467.50,247.75 468.09,248.77 468.80,249.50 C469.43,250.14 470.08,250.98 470.80,251.10 C471.49,251.21 472.31,250.72 473.00,250.30 C473.78,249.83 474.44,248.46 475.20,248.30 C475.84,248.17 476.63,248.52 477.20,249.00 C477.93,249.61 478.38,250.89 478.90,252.00 C479.49,253.26 479.95,254.80 480.50,256.20 C481.05,257.60 481.48,259.46 482.20,260.40 C482.69,261.05 483.38,261.79 483.90,261.70 C484.54,261.59 484.99,259.54 485.60,259.00 C486.01,258.64 486.45,258.37 486.90,258.40 C487.44,258.44 488.06,259.56 488.60,259.50 C489.19,259.44 489.82,258.59 490.30,257.80 C491.01,256.63 491.25,254.14 491.90,252.80 C492.40,251.78 492.90,250.74 493.60,250.30 C494.18,249.94 494.98,249.87 495.60,250.00 C496.22,250.13 496.68,250.92 497.30,251.10 C497.92,251.28 498.66,251.12 499.30,251.10 C499.89,251.08 500.47,250.82 501.00,251.00 C501.61,251.21 502.16,251.86 502.70,252.50 C503.38,253.31 503.86,254.66 504.60,255.60 C505.33,256.53 506.35,258.16 507.10,258.10 C507.84,258.04 508.36,256.06 509.10,255.30 C509.75,254.63 510.42,253.90 511.20,253.70 C511.98,253.50 513.06,254.49 513.80,254.10 C514.86,253.54 515.24,250.65 516.20,249.20 C517.09,247.84 518.34,245.69 519.30,245.60 C520.01,245.53 520.68,246.54 521.30,247.20 C522.02,247.96 522.54,249.31 523.30,250.00 C523.94,250.57 524.76,251.33 525.40,251.20 C526.15,251.05 526.63,248.98 527.40,248.60 C528.00,248.30 528.81,248.26 529.40,248.60 C530.23,249.08 530.75,250.84 531.40,252.10 C532.12,253.51 532.85,255.04 533.50,256.70 C534.23,258.57 534.74,261.08 535.50,262.80 C536.11,264.16 536.65,265.43 537.50,266.30 C538.25,267.07 539.33,267.35 540.20,267.90 C541.03,268.42 541.91,269.67 542.60,269.50 C543.42,269.30 543.96,267.37 544.60,265.90 C545.50,263.83 546.01,259.97 547.10,258.10 C547.85,256.82 548.88,255.32 549.70,255.30 C550.40,255.29 550.97,256.83 551.70,257.30 C552.35,257.72 553.10,257.97 553.80,258.10 C554.46,258.22 555.24,257.70 555.80,258.10 C556.78,258.79 557.10,261.76 557.80,263.80 C558.62,266.17 559.40,271.32 560.40,271.50 C561.04,271.62 561.72,269.42 562.50,268.90 C563.12,268.49 563.91,268.77 564.50,268.30 C565.32,267.65 565.88,266.16 566.50,264.80 C567.28,263.10 567.88,260.67 568.60,258.80 C569.25,257.13 569.80,254.81 570.60,254.10 C571.03,253.72 571.60,253.50 572.00,253.70 C572.65,254.02 572.90,255.94 573.40,257.30 C574.05,259.06 574.66,261.87 575.50,263.40 C576.09,264.48 576.80,265.83 577.50,265.90 C578.14,265.96 578.79,264.55 579.50,264.20 C580.13,263.90 580.90,263.55 581.50,263.80 C582.32,264.13 582.92,265.83 583.60,266.90 C584.29,268.00 584.93,270.30 585.60,270.30 C586.27,270.30 586.99,268.23 587.60,266.90 C588.39,265.19 588.87,262.38 589.70,260.80 C590.30,259.66 591.04,259.01 591.70,258.10 C592.37,257.18 593.00,256.13 593.70,255.30 C594.34,254.55 595.13,253.19 595.70,253.30 C596.41,253.44 596.86,255.74 597.40,257.30 C598.12,259.39 598.62,262.71 599.40,264.80 C600.00,266.41 600.63,268.77 601.40,268.90 C602.00,269.00 602.76,267.67 603.40,266.90 C604.14,266.01 604.83,264.89 605.50,263.80 C606.20,262.66 606.81,261.32 607.50,260.20 C608.14,259.16 608.74,258.00 609.50,257.30 C610.13,256.72 610.98,255.92 611.60,256.10 C612.41,256.33 612.94,258.54 613.60,259.80 C614.28,261.10 614.74,263.14 615.60,263.80 C616.18,264.24 616.98,264.41 617.60,264.20 C618.37,263.94 619.01,262.60 619.70,261.80 C620.38,261.00 620.95,260.09 621.70,259.40 C622.42,258.73 623.32,258.11 624.10,257.70 C624.75,257.36 625.37,257.23 626.00,257.00" stroke="#569656"/>
<path d="M59.00,-10.00 C59.20,-6.67 59.19,-3.32 59.60,0.00 C60.02,3.35 60.80,6.67 61.50,10.00 C62.20,13.34 63.15,16.50 63.80,20.00 C64.51,23.80 64.96,27.89 65.50,32.00 C66.07,36.32 66.48,41.02 67.10,45.30 C67.69,49.33 68.02,56.75 69.10,57.00 C69.70,57.14 70.56,53.98 71.30,54.00 C72.13,54.03 73.03,57.88 73.80,57.90 C74.41,57.91 74.91,56.22 75.50,55.50 C76.04,54.84 76.75,53.57 77.20,53.70 C77.93,53.91 78.08,57.56 78.50,60.00 C79.08,63.35 79.71,68.05 80.20,72.00 C80.67,75.84 81.04,79.06 81.40,83.40 C81.88,89.17 82.16,97.19 82.60,103.60 C83.00,109.43 83.34,116.45 83.90,120.30 C84.20,122.36 84.56,123.30 84.90,125.00 C85.30,126.99 85.59,129.50 86.10,131.50 C86.55,133.26 87.04,134.91 87.70,136.40 C88.30,137.75 89.04,140.01 89.80,140.10 C90.43,140.18 91.13,138.73 91.80,138.00 C92.50,137.23 93.13,135.70 93.90,135.60 C94.63,135.50 95.66,136.41 96.30,137.20 C97.08,138.18 97.46,139.67 97.90,141.30 C98.51,143.54 98.76,146.93 99.20,149.50 C99.59,151.80 100.01,153.57 100.40,156.00 C100.89,159.06 101.32,163.14 101.80,166.40 C102.22,169.30 102.64,172.12 103.10,174.60 C103.48,176.68 103.81,179.13 104.30,180.30 C104.54,180.88 104.82,181.51 105.10,181.50 C105.45,181.49 105.90,180.37 106.20,179.50 C106.67,178.12 106.69,175.53 107.10,173.80 C107.45,172.31 107.77,170.34 108.40,169.70 C108.74,169.35 109.20,169.30 109.60,169.30 C110.00,169.30 110.48,169.85 110.80,169.70 C111.21,169.51 111.39,168.52 111.60,167.70 C111.91,166.52 111.98,164.66 112.20,163.20 C112.41,161.80 112.67,160.70 112.90,159.10 C113.21,156.88 113.46,153.90 113.80,151.10 C114.18,148.00 114.67,144.50 115.10,141.30 C115.51,138.24 115.88,135.14 116.30,132.30 C116.68,129.74 117.15,127.26 117.50,125.00 C117.80,123.04 117.67,120.61 118.30,119.50 C118.67,118.85 119.28,118.32 119.80,118.30 C120.34,118.28 121.00,119.66 121.50,119.50 C122.37,119.22 122.61,114.88 123.50,113.60 C124.07,112.78 124.82,112.54 125.50,112.00 C126.21,111.44 127.03,110.89 127.70,110.30 C128.32,109.75 128.90,108.51 129.40,108.60 C130.03,108.71 130.50,110.69 131.00,112.00 C131.63,113.66 132.00,116.31 132.70,117.80 C133.20,118.85 133.92,119.12 134.40,120.30 C135.28,122.48 135.55,126.91 136.10,130.40 C136.69,134.13 137.30,138.49 137.80,142.00 C138.21,144.91 138.49,147.08 138.90,150.00 C139.40,153.55 140.03,157.87 140.60,161.80 C141.17,165.73 141.47,170.84 142.30,173.60 C142.78,175.19 143.43,176.05 144.00,177.20 C144.53,178.28 145.13,179.12 145.60,180.30 C146.17,181.74 146.52,183.51 147.00,185.30 C147.55,187.37 148.04,190.17 148.70,192.00 C149.18,193.35 149.67,195.29 150.30,195.40 C150.80,195.49 151.52,194.55 152.00,193.70 C152.81,192.27 153.02,188.83 153.70,187.00 C154.20,185.64 154.69,183.93 155.40,183.60 C155.87,183.38 156.47,184.04 157.00,184.00 C157.56,183.96 158.12,183.57 158.70,183.30 C159.34,183.01 160.11,182.16 160.70,182.30 C161.36,182.45 161.81,183.68 162.40,184.50 C163.10,185.48 163.96,186.60 164.60,187.80 C165.28,189.08 165.75,190.53 166.30,192.00 C166.89,193.59 167.36,195.63 168.00,197.00 C168.49,198.04 169.16,198.55 169.60,199.60 C170.17,200.96 170.40,202.86 170.80,204.60 C171.23,206.48 171.66,208.30 172.10,210.50 C172.66,213.29 173.22,216.92 173.80,220.00 C174.35,222.91 174.84,225.85 175.50,228.50 C176.09,230.88 176.75,233.15 177.50,235.20 C178.17,237.01 178.85,238.87 179.70,240.20 C180.36,241.24 181.27,241.61 181.90,242.70 C182.76,244.19 183.19,247.26 183.90,248.60 C184.32,249.38 184.75,250.31 185.20,250.30 C185.74,250.29 186.35,248.77 186.90,247.80 C187.59,246.60 188.34,245.28 188.90,243.60 C189.66,241.32 190.06,238.13 190.60,235.20 C191.19,231.99 191.67,228.11 192.30,225.10 C192.82,222.63 193.34,220.23 194.00,218.40 C194.48,217.05 194.91,215.69 195.60,215.00 C196.09,214.51 196.78,214.07 197.30,214.20 C197.93,214.35 198.43,216.40 199.00,216.40 C199.57,216.40 200.15,214.94 200.70,214.20 C201.25,213.47 201.68,212.49 202.30,212.00 C202.81,211.60 203.49,211.63 204.00,211.30 C204.52,210.97 204.91,210.49 205.40,210.00 C205.99,209.41 206.77,207.97 207.30,208.00 C207.74,208.03 208.11,208.84 208.40,209.50 C208.83,210.46 208.92,211.93 209.20,213.40 C209.57,215.31 209.90,217.87 210.40,220.00 C210.88,222.03 211.48,224.11 212.10,225.90 C212.63,227.43 213.19,228.89 213.80,230.10 C214.30,231.09 214.74,231.99 215.40,232.70 C216.02,233.37 217.00,233.49 217.60,234.30 C218.44,235.44 218.73,237.71 219.30,239.40 C219.86,241.08 220.13,243.26 221.00,244.40 C221.66,245.27 222.85,245.15 223.50,246.10 C224.54,247.62 224.66,251.02 225.20,253.60 C225.77,256.32 226.22,259.37 226.80,262.00 C227.33,264.37 227.86,266.55 228.50,268.70 C229.10,270.74 229.84,273.18 230.50,274.60 C230.90,275.47 231.27,276.61 231.70,276.60 C232.28,276.58 233.04,274.25 233.60,272.90 C234.23,271.38 234.65,269.69 235.20,267.90 C235.84,265.83 236.59,263.48 237.20,261.20 C237.83,258.85 238.19,255.64 238.90,254.00 C239.32,253.04 239.77,251.97 240.30,251.90 C240.78,251.84 241.43,253.42 241.90,253.30 C242.62,253.11 243.02,250.12 243.60,248.60 C244.15,247.16 244.58,244.89 245.30,244.40 C245.69,244.14 246.21,244.14 246.60,244.40 C247.32,244.89 247.80,246.93 248.30,248.60 C248.99,250.89 249.53,254.07 250.00,257.00 C250.51,260.18 250.82,263.66 251.20,267.00 C251.58,270.36 251.76,274.35 252.30,277.10 C252.68,279.04 253.14,281.19 253.70,282.00 C253.95,282.36 254.21,282.30 254.50,282.60 C255.00,283.13 255.69,284.08 256.20,285.10 C256.87,286.44 257.33,288.43 257.90,290.10 C258.47,291.77 259.08,293.30 259.60,295.10 C260.19,297.16 260.72,299.63 261.20,301.80 C261.65,303.83 261.89,306.02 262.40,307.70 C262.80,309.01 263.30,311.09 263.80,311.10 C264.30,311.11 264.83,308.76 265.40,307.70 C265.93,306.71 266.50,304.95 267.10,304.90 C267.64,304.86 268.29,306.06 268.80,306.90 C269.47,308.00 269.90,309.86 270.50,311.10 C271.01,312.15 271.46,313.25 272.10,313.90 C272.60,314.41 273.21,314.74 273.80,314.90 C274.35,315.05 274.96,314.73 275.50,314.90 C276.10,315.09 276.68,315.68 277.20,316.10 C277.68,316.49 278.08,317.36 278.50,317.30 C279.08,317.21 279.57,315.19 280.20,314.40 C280.72,313.74 281.36,313.40 281.90,312.80 C282.49,312.15 283.16,311.56 283.60,310.60 C284.22,309.25 284.34,307.10 284.70,305.20 C285.10,303.09 285.48,300.73 285.90,298.50 C286.32,296.27 286.35,292.94 287.20,291.80 C287.65,291.19 288.32,291.14 288.90,290.90 C289.46,290.67 290.05,290.73 290.60,290.40 C291.29,289.99 291.93,289.12 292.60,288.40 C293.33,287.62 294.04,286.38 294.80,285.90 C295.35,285.55 295.97,285.26 296.50,285.40 C297.12,285.56 297.62,287.06 298.20,287.10 C298.73,287.14 299.28,286.41 299.80,285.90 C300.42,285.29 300.94,284.10 301.60,283.60 C302.13,283.20 302.75,283.19 303.30,282.90 C303.88,282.60 304.42,282.22 305.00,281.80 C305.65,281.33 306.44,280.09 307.00,280.20 C307.59,280.32 307.94,281.74 308.40,282.70 C308.98,283.90 309.36,285.87 310.10,286.90 C310.66,287.68 311.38,288.49 312.10,288.60 C312.79,288.71 313.68,288.19 314.30,287.70 C314.96,287.18 315.40,285.48 315.90,285.50 C316.39,285.52 316.92,286.69 317.30,287.70 C317.95,289.43 318.07,292.85 318.50,295.30 C318.91,297.61 319.18,300.54 319.80,302.00 C320.14,302.80 320.65,303.75 321.00,303.70 C321.46,303.63 321.76,301.70 322.10,300.30 C322.63,298.14 322.89,294.32 323.50,291.90 C323.98,290.00 324.42,287.84 325.20,286.90 C325.66,286.35 326.34,285.87 326.80,286.00 C327.38,286.17 327.81,287.49 328.20,288.60 C328.79,290.28 328.99,293.23 329.40,295.30 C329.76,297.09 329.84,299.40 330.50,300.30 C330.87,300.81 331.51,301.25 331.90,301.10 C332.54,300.85 332.68,298.28 333.20,297.00 C333.69,295.79 334.29,294.72 334.90,293.60 C335.52,292.46 336.26,291.30 336.90,290.20 C337.49,289.17 337.86,287.71 338.60,287.20 C339.17,286.81 340.00,287.20 340.60,286.90 C341.25,286.57 341.76,285.85 342.30,285.20 C342.90,284.47 343.53,283.68 344.00,282.70 C344.57,281.52 344.83,279.96 345.30,278.50 C345.82,276.90 346.44,275.18 347.00,273.50 C347.57,271.81 348.09,269.90 348.70,268.40 C349.20,267.16 349.72,266.10 350.30,265.10 C350.83,264.19 351.35,263.18 352.00,262.60 C352.52,262.14 353.20,261.54 353.70,261.70 C354.40,261.92 354.83,264.01 355.40,265.10 C355.93,266.13 356.37,267.98 357.00,268.10 C357.51,268.20 358.11,267.07 358.70,266.70 C359.25,266.35 359.86,265.81 360.40,265.90 C361.01,266.01 361.51,267.55 362.10,267.60 C362.65,267.65 363.23,266.46 363.80,266.40 C364.33,266.35 364.93,266.64 365.40,267.10 C366.12,267.82 366.54,269.60 367.10,270.90 C367.68,272.26 368.26,273.62 368.80,275.10 C369.39,276.71 370.00,278.50 370.50,280.20 C370.99,281.87 371.34,283.70 371.80,285.20 C372.18,286.45 372.47,288.44 373.00,288.60 C373.34,288.70 373.86,288.23 374.20,287.70 C374.88,286.64 375.00,283.75 375.50,281.80 C376.00,279.85 376.50,277.49 377.20,276.00 C377.70,274.95 378.26,273.67 378.90,273.50 C379.39,273.37 379.96,274.04 380.50,274.30 C381.06,274.57 381.66,275.19 382.20,275.10 C382.80,275.00 383.29,273.83 383.90,273.50 C384.43,273.21 385.07,272.99 385.60,273.10 C386.17,273.22 386.73,274.43 387.20,274.30 C387.91,274.10 388.37,271.63 388.90,270.10 C389.52,268.31 389.74,265.21 390.60,264.20 C391.08,263.64 391.73,263.40 392.30,263.40 C392.87,263.40 393.43,264.16 394.00,264.20 C394.53,264.24 395.16,263.48 395.60,263.70 C396.29,264.05 396.59,266.15 397.00,267.60 C397.49,269.35 397.71,271.63 398.20,273.50 C398.66,275.25 399.06,277.33 399.80,278.50 C400.30,279.30 401.09,279.35 401.60,280.20 C402.45,281.63 402.85,284.60 403.40,286.90 C403.98,289.32 404.33,292.16 405.00,294.40 C405.57,296.29 406.32,297.74 407.00,299.50 C407.72,301.37 408.53,303.42 409.20,305.30 C409.82,307.05 410.33,308.71 410.90,310.40 C411.46,312.08 411.87,314.23 412.60,315.40 C413.09,316.19 413.80,317.19 414.30,317.10 C414.93,316.99 415.42,315.05 415.90,313.70 C416.56,311.87 416.80,308.79 417.60,307.00 C418.20,305.64 418.95,304.08 419.80,303.70 C420.41,303.43 421.25,303.55 421.80,304.00 C422.66,304.71 422.93,307.13 423.50,308.70 C424.07,310.27 424.41,313.15 425.20,313.40 C425.76,313.58 426.49,312.37 427.20,312.00 C427.89,311.64 428.79,311.69 429.40,311.20 C430.09,310.65 430.51,309.71 431.00,308.70 C431.65,307.35 431.97,304.87 432.70,303.70 C433.19,302.91 433.90,301.90 434.40,302.00 C435.09,302.14 435.52,304.63 436.10,306.20 C436.82,308.16 437.44,311.46 438.30,312.90 C438.79,313.73 439.41,314.70 439.90,314.60 C440.66,314.45 441.07,310.52 441.90,309.50 C442.41,308.88 443.10,308.26 443.60,308.40 C444.30,308.60 444.59,311.25 445.30,312.00 C445.80,312.52 446.49,313.08 447.00,312.90 C447.81,312.62 448.36,308.45 449.00,308.40 C449.45,308.36 449.88,309.59 450.30,310.40 C450.88,311.52 451.21,314.07 452.00,314.60 C452.48,314.93 453.15,314.80 453.70,314.60 C454.39,314.35 455.01,313.46 455.70,312.90 C456.41,312.32 457.17,311.77 457.90,311.20 C458.63,310.63 459.31,309.77 460.10,309.50 C460.82,309.25 461.68,309.73 462.40,309.50 C463.19,309.24 463.89,308.51 464.60,307.90 C465.36,307.25 466.06,306.19 466.80,305.70 C467.37,305.32 468.01,304.81 468.50,305.00 C469.20,305.27 469.58,307.18 470.10,308.40 C470.69,309.78 471.00,311.95 471.80,312.90 C472.35,313.56 473.14,314.00 473.80,314.10 C474.37,314.19 474.98,313.53 475.50,313.70 C476.14,313.91 476.59,315.61 477.20,315.70 C477.73,315.78 478.35,314.98 478.90,314.60 C479.45,314.22 479.96,313.41 480.50,313.40 C481.06,313.39 481.62,314.26 482.20,314.60 C482.75,314.92 483.33,315.13 483.90,315.40 C484.47,315.67 485.08,315.72 485.60,316.20 C486.36,316.89 486.98,318.68 487.60,319.60 C488.06,320.28 488.42,321.27 488.90,321.30 C489.41,321.33 490.01,320.10 490.60,319.60 C491.15,319.14 491.77,318.91 492.30,318.40 C492.91,317.81 493.48,317.04 494.00,316.20 C494.60,315.24 495.02,312.94 495.60,312.90 C496.13,312.86 496.76,314.48 497.30,315.40 C497.90,316.43 498.47,318.83 499.00,318.80 C499.61,318.76 500.11,315.47 500.70,314.00 C501.22,312.70 501.68,311.36 502.30,310.40 C502.78,309.65 503.38,309.30 503.90,308.60 C504.52,307.75 504.97,306.28 505.70,305.60 C506.28,305.06 507.10,304.44 507.70,304.60 C508.47,304.80 508.98,306.72 509.70,307.60 C510.35,308.40 511.06,309.17 511.80,309.70 C512.44,310.16 513.23,310.94 513.80,310.70 C514.76,310.30 515.10,306.53 515.80,304.60 C516.44,302.81 516.86,300.35 517.80,299.50 C518.39,298.96 519.23,298.81 519.90,298.90 C520.60,298.99 521.32,299.44 521.90,300.10 C522.75,301.06 523.24,303.05 523.90,304.60 C524.60,306.24 525.36,307.84 526.00,309.70 C526.74,311.85 527.31,314.53 528.00,316.80 C528.65,318.92 529.33,322.90 530.00,322.90 C530.67,322.90 531.02,317.91 532.00,316.80 C532.59,316.13 533.51,315.55 534.10,315.80 C535.07,316.21 535.39,319.94 536.10,321.80 C536.73,323.48 537.32,326.39 538.10,326.50 C538.73,326.59 539.47,324.77 540.20,323.90 C540.96,323.00 541.93,321.06 542.60,321.20 C543.50,321.39 543.86,327.25 544.60,327.30 C545.24,327.34 546.09,324.68 546.70,322.90 C547.54,320.43 547.90,315.89 548.70,313.70 C549.18,312.38 549.79,310.66 550.30,310.70 C551.00,310.76 551.63,314.73 552.30,316.80 C552.99,318.93 553.45,323.00 554.40,323.30 C554.98,323.48 555.71,322.35 556.40,321.80 C557.17,321.19 557.96,320.38 558.80,319.80 C559.60,319.25 560.46,318.89 561.30,318.40 C562.16,317.89 563.18,316.59 563.90,316.80 C564.78,317.05 565.02,320.26 565.90,320.80 C566.50,321.17 567.33,320.64 568.00,320.80 C568.69,320.96 569.31,321.87 570.00,321.80 C570.83,321.72 571.87,320.69 572.60,319.80 C573.45,318.77 573.69,316.55 574.60,315.80 C575.29,315.23 576.28,315.10 577.10,315.10 C577.91,315.10 578.74,315.82 579.50,315.80 C580.20,315.78 580.88,315.52 581.50,315.10 C582.26,314.58 582.96,312.63 583.60,312.70 C584.34,312.78 584.88,315.33 585.60,316.40 C586.22,317.32 586.90,318.06 587.60,318.80 C588.27,319.52 589.02,320.12 589.70,320.80 C590.38,321.48 591.11,323.02 591.70,322.90 C592.51,322.74 593.03,319.50 593.70,317.80 C594.37,316.10 594.79,313.68 595.70,312.70 C596.30,312.06 597.17,311.53 597.80,311.70 C598.58,311.92 599.17,313.60 599.80,314.70 C600.51,315.94 601.02,318.66 601.80,318.80 C602.43,318.91 603.20,317.43 603.90,316.80 C604.57,316.20 605.23,315.10 605.90,315.10 C606.57,315.10 607.25,316.83 607.90,316.80 C608.58,316.76 609.22,315.38 609.90,314.70 C610.58,314.02 611.31,313.37 612.00,312.70 C612.68,312.04 613.37,310.64 614.00,310.70 C614.71,310.77 615.35,312.65 616.00,313.70 C616.69,314.81 617.18,316.91 618.00,317.20 C618.61,317.42 619.43,316.32 620.10,316.40 C620.80,316.49 621.51,317.11 622.10,317.80 C622.90,318.73 623.42,320.55 624.10,321.80 C624.72,322.94 625.37,323.93 626.00,325.00" stroke="#be14aa"/>
<path d="M29.50,-10.00 C29.63,-6.67 29.70,-4.36 29.90,0.00 C30.28,8.28 31.21,24.17 31.80,36.00 C32.37,47.49 32.90,60.64 33.40,70.00 C33.75,76.58 34.03,81.20 34.40,86.80 C34.77,92.40 35.04,98.73 35.60,103.60 C36.04,107.37 36.21,110.90 37.20,113.60 C37.96,115.67 39.33,117.08 40.30,118.70 C41.18,120.17 41.95,122.72 42.80,122.90 C43.36,123.02 44.04,121.59 44.50,121.70 C44.98,121.81 45.27,122.81 45.60,123.70 C46.17,125.25 46.44,128.18 47.00,130.40 C47.57,132.65 48.16,135.29 49.00,137.10 C49.64,138.48 50.58,139.51 51.20,140.50 C51.67,141.25 51.97,142.48 52.40,142.50 C52.81,142.52 53.39,141.48 53.70,140.80 C54.06,140.02 54.10,139.42 54.30,138.00 C54.91,133.73 55.60,120.60 56.20,112.00 C56.79,103.54 57.36,94.13 57.90,86.80 C58.32,81.12 58.73,76.04 59.10,71.70 C59.38,68.40 59.52,63.03 59.90,63.00 C60.13,62.98 60.49,64.92 60.70,66.00 C60.94,67.23 61.04,68.09 61.20,70.00 C61.61,74.78 61.99,86.42 62.40,95.20 C62.85,104.81 63.34,116.83 63.80,125.40 C64.14,131.76 64.49,137.47 64.80,142.00 C65.01,145.15 65.14,146.91 65.40,150.00 C65.76,154.26 66.32,160.66 66.80,165.20 C67.19,168.88 67.53,172.48 68.00,175.20 C68.33,177.10 68.63,179.95 69.10,180.00 C69.49,180.04 70.05,178.07 70.50,176.90 C71.06,175.45 71.18,172.84 72.10,171.90 C72.76,171.22 73.94,170.78 74.70,171.00 C75.53,171.24 76.22,172.49 76.80,173.60 C77.58,175.09 77.73,178.10 78.50,179.40 C78.99,180.22 79.63,180.53 80.20,181.10 C80.77,181.67 81.46,181.93 81.90,182.80 C82.69,184.34 82.74,187.61 83.10,190.30 C83.52,193.41 83.74,197.28 84.20,200.40 C84.60,203.12 84.80,206.47 85.60,208.00 C86.03,208.83 86.73,209.07 87.20,209.60 C87.62,210.07 87.98,210.27 88.30,211.00 C89.03,212.65 89.27,216.46 89.80,220.00 C90.56,225.06 91.45,232.48 92.30,238.50 C93.11,244.24 93.94,249.85 94.80,255.30 C95.61,260.47 96.54,266.23 97.30,270.40 C97.84,273.37 98.32,275.87 98.80,278.00 C99.15,279.55 99.46,280.75 99.80,282.00 C100.10,283.10 100.25,284.19 100.70,285.10 C101.11,285.94 101.74,287.22 102.30,287.30 C102.75,287.36 103.29,286.71 103.70,286.20 C104.24,285.52 104.62,284.51 105.00,283.40 C105.50,281.92 105.89,280.19 106.20,278.00 C106.67,274.69 106.66,269.79 107.00,265.40 C107.38,260.59 107.77,254.59 108.40,250.30 C108.87,247.08 109.47,244.34 110.10,241.90 C110.60,239.97 111.04,237.98 111.70,236.80 C112.12,236.06 112.69,235.10 113.10,235.20 C113.84,235.38 114.16,240.44 114.80,241.90 C115.15,242.69 115.59,243.67 115.90,243.60 C116.54,243.46 116.73,238.49 117.10,235.20 C117.62,230.57 118.03,223.04 118.50,218.40 C118.83,215.12 119.18,212.89 119.50,210.00 C119.85,206.91 120.07,203.30 120.50,200.40 C120.86,197.96 121.31,193.72 121.80,193.70 C122.23,193.68 122.79,196.68 123.20,198.70 C123.80,201.69 124.17,205.86 124.60,210.00 C125.12,215.04 125.42,221.71 126.00,226.80 C126.49,231.06 127.08,234.93 127.70,238.50 C128.23,241.54 128.95,243.76 129.40,246.90 C129.96,250.83 130.07,255.98 130.50,260.30 C130.91,264.36 131.22,269.41 131.90,272.10 C132.27,273.57 132.56,274.59 133.20,275.40 C133.73,276.07 134.63,276.12 135.20,276.80 C135.93,277.68 136.40,279.55 136.90,280.50 C137.23,281.12 137.51,281.30 137.80,282.00 C138.37,283.37 138.90,286.01 139.40,288.40 C140.02,291.37 140.49,295.39 141.10,298.50 C141.63,301.19 142.09,305.91 142.80,306.00 C143.30,306.06 143.90,303.97 144.50,302.70 C145.28,301.03 146.26,298.85 147.00,296.80 C147.77,294.66 148.29,291.98 149.00,290.10 C149.54,288.66 149.93,286.66 150.70,286.40 C151.31,286.20 152.28,287.76 152.90,287.60 C153.57,287.43 153.89,285.99 154.50,285.10 C155.23,284.04 156.18,282.91 157.00,281.70 C157.88,280.39 158.69,278.74 159.60,277.50 C160.40,276.41 161.19,275.30 162.10,274.60 C162.88,274.01 163.86,273.34 164.60,273.40 C165.24,273.45 165.82,273.90 166.30,274.60 C167.18,275.89 167.44,279.94 168.00,281.50 C168.30,282.35 168.57,283.41 168.90,283.40 C169.37,283.39 169.93,279.67 170.50,279.60 C170.91,279.55 171.40,280.45 171.80,281.30 C172.62,283.04 173.09,287.59 173.80,290.10 C174.34,292.02 174.86,293.52 175.50,295.10 C176.10,296.58 176.93,299.34 177.50,299.30 C178.06,299.27 178.51,296.88 178.90,295.10 C179.54,292.20 179.79,286.98 180.20,283.40 C180.55,280.37 180.79,276.85 181.20,275.00 C181.41,274.05 181.70,272.88 181.90,272.90 C182.22,272.93 182.37,275.95 182.60,278.40 C183.05,283.25 183.43,293.41 183.90,300.20 C184.31,306.17 184.76,311.72 185.20,317.00 C185.59,321.72 185.94,326.46 186.40,330.40 C186.76,333.53 186.88,337.15 187.60,338.80 C187.96,339.61 188.45,340.42 188.90,340.40 C189.44,340.38 190.03,338.73 190.60,337.90 C191.17,337.07 191.70,335.46 192.30,335.40 C192.84,335.35 193.43,336.46 194.00,337.10 C194.66,337.84 195.38,338.75 196.00,339.60 C196.61,340.42 197.10,341.42 197.70,342.10 C198.21,342.67 198.84,343.60 199.30,343.50 C199.88,343.38 200.27,341.73 200.70,340.50 C201.32,338.72 201.74,335.68 202.30,333.70 C202.75,332.12 203.13,330.64 203.70,329.50 C204.14,328.61 204.68,328.08 205.20,327.30 C205.78,326.43 206.46,325.45 207.00,324.50 C207.52,323.58 208.04,322.74 208.40,321.70 C208.80,320.53 208.95,319.48 209.20,317.80 C209.65,314.81 210.00,309.59 210.40,305.20 C210.84,300.40 211.16,294.39 211.70,290.10 C212.11,286.88 212.37,283.75 213.10,281.70 C213.56,280.40 214.16,278.82 214.80,278.70 C215.29,278.61 215.98,279.32 216.40,280.00 C217.08,281.08 217.25,283.04 217.60,285.10 C218.12,288.19 218.42,292.55 218.80,296.80 C219.26,301.89 219.60,308.00 220.10,313.60 C220.60,319.20 221.17,325.32 221.80,330.40 C222.32,334.63 222.93,338.13 223.50,342.00 C224.07,345.87 224.39,350.95 225.20,353.60 C225.66,355.08 226.12,356.20 226.80,356.90 C227.29,357.41 227.98,357.34 228.50,357.80 C229.15,358.38 229.58,359.97 230.20,360.30 C230.61,360.52 231.15,360.59 231.50,360.30 C232.26,359.68 232.22,356.36 232.70,354.40 C233.18,352.42 233.81,350.38 234.40,348.50 C234.95,346.76 235.65,345.31 236.10,343.50 C236.61,341.45 236.86,339.27 237.20,336.80 C237.61,333.78 238.01,329.94 238.30,326.70 C238.57,323.69 238.74,321.48 238.90,318.00 C239.15,312.80 238.95,304.38 239.40,298.50 C239.77,293.61 240.57,289.05 241.10,285.10 C241.52,281.97 241.92,279.36 242.30,276.70 C242.65,274.29 242.94,269.81 243.30,269.80 C243.61,269.79 244.00,272.76 244.30,275.00 C244.84,278.99 245.15,286.20 245.60,291.80 C246.05,297.40 246.55,303.01 247.00,308.60 C247.45,314.17 247.86,320.03 248.30,325.30 C248.70,330.04 249.14,334.73 249.50,338.80 C249.80,342.16 249.99,344.32 250.30,348.00 C250.77,353.52 251.12,363.95 252.00,368.70 C252.48,371.26 253.05,372.85 253.70,374.50 C254.21,375.81 254.80,376.60 255.40,377.90 C256.18,379.59 256.94,383.46 257.90,383.80 C258.43,383.99 259.07,383.30 259.60,382.90 C260.18,382.46 260.58,381.66 261.20,381.20 C261.84,380.72 262.76,379.97 263.40,380.10 C264.06,380.24 264.65,381.21 265.10,382.10 C265.73,383.34 265.79,385.52 266.30,387.10 C266.77,388.58 267.53,391.33 268.00,391.30 C268.46,391.27 268.69,388.49 269.10,387.10 C269.52,385.69 269.81,383.16 270.50,382.90 C270.94,382.73 271.62,383.32 272.10,383.80 C272.76,384.46 273.10,386.30 273.80,386.80 C274.30,387.15 274.97,386.83 275.50,387.10 C276.12,387.42 276.71,388.14 277.20,388.80 C277.73,389.52 278.09,391.34 278.50,391.30 C279.11,391.24 279.63,387.36 280.20,385.40 C280.76,383.46 281.25,381.25 281.90,379.60 C282.41,378.29 283.05,377.33 283.60,376.20 C284.14,375.09 284.67,374.05 285.20,372.90 C285.77,371.66 286.30,369.03 286.90,369.00 C287.44,368.97 288.01,370.97 288.60,372.00 C289.24,373.10 289.87,374.58 290.60,375.40 C291.13,376.00 291.73,376.28 292.30,376.70 C292.86,377.11 293.53,378.07 294.00,377.90 C294.81,377.61 295.07,374.03 295.60,372.00 C296.17,369.84 296.42,366.52 297.30,365.30 C297.78,364.64 298.49,364.69 299.00,364.20 C299.58,363.63 300.07,362.95 300.50,362.00 C301.12,360.62 301.44,358.48 301.90,356.50 C302.44,354.20 302.96,351.39 303.50,349.00 C304.00,346.81 304.46,344.76 305.00,342.70 C305.53,340.69 305.92,337.09 306.70,336.80 C307.11,336.65 307.73,337.15 308.10,337.70 C308.81,338.75 308.58,342.10 309.20,343.60 C309.64,344.67 310.36,346.14 310.90,346.10 C311.50,346.06 311.86,343.62 312.60,342.70 C313.28,341.85 314.38,340.63 315.10,340.70 C315.76,340.76 316.28,341.91 316.80,342.70 C317.43,343.65 317.96,344.93 318.50,346.10 C319.06,347.32 319.40,349.67 320.10,349.90 C320.59,350.06 321.24,349.25 321.80,348.90 C322.37,348.55 322.98,347.69 323.50,347.80 C324.14,347.93 324.70,349.28 325.20,350.30 C325.85,351.64 326.31,353.40 326.80,355.30 C327.43,357.72 327.95,360.83 328.50,363.70 C329.08,366.69 329.44,370.62 330.20,372.90 C330.69,374.35 331.19,375.61 331.90,376.30 C332.40,376.79 333.05,376.81 333.60,377.10 C334.15,377.38 334.64,377.85 335.20,378.00 C335.74,378.14 336.35,377.88 336.90,378.00 C337.48,378.13 338.06,378.42 338.60,378.80 C339.21,379.23 339.75,380.06 340.30,380.50 C340.74,380.85 341.24,381.44 341.60,381.30 C342.21,381.06 342.42,378.57 342.80,377.10 C343.22,375.51 343.39,373.34 344.00,372.10 C344.43,371.22 345.04,370.14 345.60,370.10 C346.14,370.06 346.79,370.99 347.30,371.70 C347.97,372.63 348.39,374.30 349.00,375.40 C349.53,376.36 350.17,378.04 350.70,378.00 C351.28,377.96 351.75,375.73 352.30,374.60 C352.85,373.46 353.40,372.23 354.00,371.20 C354.54,370.28 355.16,369.61 355.70,368.70 C356.30,367.69 356.95,366.89 357.40,365.40 C358.21,362.73 358.25,357.52 358.70,353.60 C359.15,349.69 359.65,345.48 360.10,341.90 C360.48,338.87 360.75,335.93 361.20,333.50 C361.55,331.61 361.92,329.99 362.40,328.50 C362.81,327.24 363.28,325.17 363.80,325.10 C364.20,325.05 364.74,325.95 365.10,326.80 C365.81,328.49 365.91,332.48 366.30,335.20 C366.67,337.77 366.79,340.91 367.40,342.70 C367.77,343.80 368.25,344.48 368.80,345.20 C369.30,345.86 370.05,346.05 370.50,346.90 C371.26,348.33 371.38,351.37 371.80,353.60 C372.22,355.83 372.57,358.22 373.00,360.30 C373.38,362.12 373.56,365.23 374.20,365.40 C374.63,365.51 375.28,364.34 375.80,363.70 C376.39,362.97 376.80,361.77 377.50,361.20 C378.12,360.69 379.05,360.17 379.70,360.30 C380.35,360.43 380.83,361.43 381.40,362.00 C381.97,362.57 382.61,363.81 383.10,363.70 C383.77,363.56 384.20,361.08 384.70,359.50 C385.32,357.54 385.83,355.03 386.40,352.80 C386.97,350.57 387.49,348.17 388.10,346.10 C388.64,344.27 389.15,342.37 389.80,341.00 C390.29,339.98 390.82,339.23 391.40,338.50 C391.93,337.85 392.49,337.23 393.10,336.80 C393.64,336.42 394.32,335.87 394.80,336.00 C395.30,336.13 395.65,336.92 396.00,337.70 C396.59,339.04 396.82,341.57 397.30,343.60 C397.81,345.77 398.40,348.34 399.00,350.30 C399.48,351.88 400.07,353.16 400.50,354.50 C400.89,355.71 401.20,356.69 401.50,358.00 C401.88,359.64 402.15,361.65 402.50,363.60 C402.88,365.73 403.11,368.43 403.70,370.30 C404.15,371.75 404.85,372.75 405.40,374.00 C405.95,375.25 406.40,376.69 407.00,377.80 C407.52,378.75 408.05,380.12 408.70,380.30 C409.21,380.44 409.88,379.78 410.40,379.50 C410.87,379.25 411.31,378.57 411.70,378.70 C412.38,378.92 412.82,381.54 413.40,382.90 C413.96,384.20 414.46,386.62 415.10,386.70 C415.62,386.76 416.15,384.94 416.80,384.50 C417.32,384.15 417.99,383.83 418.50,384.00 C419.13,384.21 419.56,386.21 420.10,386.20 C420.66,386.19 421.19,384.52 421.80,383.70 C422.42,382.85 423.08,381.68 423.80,381.20 C424.34,380.84 424.98,380.53 425.50,380.70 C426.15,380.91 426.71,381.93 427.20,382.90 C427.93,384.33 428.35,386.76 428.90,388.70 C429.45,390.66 429.61,393.92 430.50,394.60 C430.97,394.96 431.69,394.87 432.20,394.60 C432.87,394.24 433.38,393.07 433.90,392.10 C434.54,390.91 435.09,389.48 435.60,387.90 C436.22,385.95 436.26,381.94 437.20,381.20 C437.67,380.83 438.42,380.87 438.90,381.20 C439.69,381.73 439.84,384.60 440.60,385.40 C441.09,385.92 441.79,385.76 442.30,386.20 C442.95,386.76 443.50,387.68 444.00,388.70 C444.66,390.06 444.77,393.19 445.60,393.80 C446.07,394.15 446.82,394.13 447.30,393.80 C448.09,393.27 448.21,390.13 449.00,389.60 C449.48,389.27 450.16,389.74 450.70,389.60 C451.26,389.45 451.83,389.23 452.30,388.70 C453.03,387.87 453.22,385.20 454.00,384.50 C454.48,384.06 455.16,383.89 455.70,384.00 C456.30,384.12 456.79,385.12 457.40,385.40 C457.94,385.65 458.54,385.70 459.10,385.70 C459.64,385.70 460.17,385.33 460.70,385.40 C461.27,385.47 461.90,386.37 462.40,386.20 C463.10,385.96 463.38,383.49 464.10,382.90 C464.60,382.49 465.24,382.55 465.80,382.40 C466.34,382.25 466.92,382.36 467.40,382.00 C468.09,381.48 468.48,379.14 469.10,379.00 C469.54,378.90 470.10,379.47 470.50,380.00 C471.10,380.79 471.32,382.43 471.80,383.70 C472.31,385.06 472.74,387.10 473.50,387.90 C473.99,388.42 474.64,388.71 475.20,388.70 C475.74,388.69 476.31,388.33 476.80,387.90 C477.44,387.34 477.89,385.47 478.50,385.40 C479.03,385.34 479.71,386.23 480.20,387.00 C480.94,388.16 481.20,391.18 481.90,392.10 C482.26,392.58 482.77,393.03 483.10,392.90 C483.67,392.68 483.76,390.15 484.20,388.70 C484.68,387.10 485.06,384.19 485.90,383.70 C486.38,383.42 487.06,383.75 487.60,384.00 C488.21,384.28 488.76,385.43 489.30,385.40 C489.86,385.36 490.35,384.26 490.90,383.70 C491.45,383.13 492.08,382.71 492.60,382.00 C493.24,381.12 493.73,379.78 494.30,378.70 C494.86,377.65 495.35,375.73 496.00,375.60 C496.51,375.50 497.16,376.49 497.70,377.00 C498.26,377.52 498.77,378.67 499.30,378.70 C499.77,378.73 500.27,378.03 500.70,377.50 C501.26,376.82 501.71,375.86 502.20,374.80 C502.85,373.39 503.30,370.95 504.10,369.70 C504.68,368.80 505.49,367.60 506.10,367.70 C506.86,367.82 507.42,370.42 508.10,371.70 C508.75,372.91 509.21,374.69 510.10,375.20 C510.80,375.60 511.92,375.64 512.60,375.20 C513.56,374.58 514.04,372.45 514.60,370.70 C515.32,368.43 515.49,364.96 516.20,362.60 C516.78,360.67 517.47,357.65 518.30,357.50 C518.90,357.39 519.69,358.73 520.30,359.60 C521.06,360.68 521.66,362.17 522.30,363.60 C523.00,365.18 523.62,367.00 524.30,368.70 C524.98,370.40 525.74,372.02 526.40,373.80 C527.11,375.71 527.68,378.22 528.40,379.80 C528.91,380.91 529.50,382.51 530.00,382.50 C530.50,382.49 530.81,380.59 531.40,379.80 C531.98,379.03 532.89,377.66 533.50,377.80 C534.34,377.99 534.86,381.11 535.50,382.90 C536.20,384.83 536.82,386.97 537.50,389.00 C538.18,391.04 538.71,394.25 539.60,395.10 C540.02,395.50 540.60,395.72 541.00,395.50 C541.79,395.06 541.92,391.59 542.60,390.00 C543.17,388.66 543.72,387.16 544.60,386.50 C545.30,385.98 546.25,386.00 547.10,385.90 C547.95,385.80 548.92,386.14 549.70,385.90 C550.45,385.66 551.03,384.99 551.70,384.50 C552.40,383.99 553.13,382.85 553.80,382.90 C554.50,382.95 555.17,384.96 555.80,384.90 C556.51,384.83 557.09,382.78 557.80,381.90 C558.43,381.11 559.06,380.25 559.80,379.80 C560.44,379.41 561.24,379.06 561.90,379.20 C562.62,379.36 563.32,380.06 563.90,380.90 C564.77,382.16 565.08,386.36 565.90,386.50 C566.51,386.60 567.33,384.81 568.00,383.90 C568.70,382.95 569.29,381.78 570.00,380.90 C570.63,380.11 571.31,378.85 572.00,378.80 C572.65,378.76 573.41,379.60 574.00,380.40 C574.89,381.62 575.37,385.86 576.10,385.90 C576.74,385.93 577.34,382.98 578.10,381.90 C578.71,381.03 579.42,379.81 580.10,379.80 C580.79,379.79 581.46,381.78 582.20,381.90 C582.84,382.00 583.51,381.06 584.20,380.90 C584.85,380.75 585.55,381.07 586.20,380.90 C586.89,380.72 587.59,379.65 588.20,379.80 C588.99,379.99 589.51,382.21 590.30,382.90 C590.91,383.44 591.61,383.74 592.30,383.90 C592.95,384.05 593.68,384.16 594.30,383.90 C595.04,383.60 595.70,382.80 596.30,381.90 C597.13,380.65 597.67,378.35 598.40,376.80 C599.04,375.45 599.69,373.15 600.40,373.10 C601.03,373.05 601.64,375.17 602.40,375.80 C603.03,376.32 603.83,376.88 604.50,376.80 C605.20,376.72 605.93,375.04 606.50,375.20 C607.38,375.45 607.85,380.91 608.50,380.90 C609.19,380.89 609.56,375.79 610.50,374.40 C611.09,373.52 611.96,372.60 612.60,372.70 C613.35,372.82 613.99,374.60 614.60,375.80 C615.35,377.26 615.76,379.65 616.60,380.90 C617.21,381.81 617.95,382.51 618.70,382.90 C619.33,383.23 620.05,383.05 620.70,383.30 C621.39,383.57 622.01,384.23 622.70,384.50 C623.35,384.75 624.10,384.82 624.70,384.90 C625.18,384.97 625.57,384.97 626.00,385.00" stroke="#ffd010"/>
</g>
<g fill="#000">
<polygon points="313.0,262.2 332.4,262.2 322.8,282.3"/>
<polygon points="312.2,316.1 331.8,316.1 322.1,336.4"/>
<polygon points="510.7,273.9 529.9,273.9 520.3,294.4"/>
<polygon points="509.9,333.9 529.3,333.9 519.3,354.4"/>
</g>
<g shape-rendering="crispEdges">
<rect x="0" y="0" width="627" height="1" fill="#303030"/>
<rect x="2" y="1" width="622" height="1" fill="#7c7c7c"/>
<rect x="0" y="1" width="1" height="408" fill="#aaaaaa"/>
<rect x="1" y="0" width="1" height="409" fill="#3a3a3a"/>
<rect x="625" y="0" width="1" height="409" fill="#404040"/>
<rect x="626" y="0" width="1" height="409" fill="#dcdcdc"/>
<rect x="1" y="408" width="625" height="1" fill="#1a1a1a"/>
<rect x="2" y="409" width="624" height="1" fill="#e6e6e6"/>
<rect x="1" y="409" width="1" height="2.8" fill="#a2a2a2"/>
<rect x="22" y="409" width="1" height="2.8" fill="#a2a2a2"/>
<rect x="43" y="409" width="1" height="5.5" fill="#a2a2a2"/>
<rect x="64" y="409" width="1" height="2.8" fill="#a2a2a2"/>
<rect x="84" y="409" width="1" height="2.8" fill="#a2a2a2"/>
<rect x="105" y="409" width="1" height="2.8" fill="#a2a2a2"/>
<rect x="126" y="409" width="1" height="5.5" fill="#a2a2a2"/>
<rect x="147" y="409" width="1" height="2.8" fill="#a2a2a2"/>
<rect x="168" y="409" width="1" height="2.8" fill="#a2a2a2"/>
<rect x="189" y="409" width="1" height="2.8" fill="#a2a2a2"/>
<rect x="209" y="409" width="1" height="5.5" fill="#a2a2a2"/>
<rect x="230" y="409" width="1" height="2.8" fill="#a2a2a2"/>
<rect x="251" y="409" width="1" height="2.8" fill="#a2a2a2"/>
<rect x="272" y="409" width="1" height="2.8" fill="#a2a2a2"/>
<rect x="293" y="409" width="1" height="5.5" fill="#a2a2a2"/>
<rect x="313" y="409" width="1" height="2.8" fill="#a2a2a2"/>
<rect x="334" y="409" width="1" height="2.8" fill="#a2a2a2"/>
<rect x="355" y="409" width="1" height="2.8" fill="#a2a2a2"/>
<rect x="376" y="409" width="1" height="5.5" fill="#a2a2a2"/>
<rect x="397" y="409" width="1" height="2.8" fill="#a2a2a2"/>
<rect x="417" y="409" width="1" height="2.8" fill="#a2a2a2"/>
<rect x="438" y="409" width="1" height="2.8" fill="#a2a2a2"/>
<rect x="459" y="409" width="1" height="5.5" fill="#a2a2a2"/>
<rect x="480" y="409" width="1" height="2.8" fill="#a2a2a2"/>
<rect x="501" y="409" width="1" height="2.8" fill="#a2a2a2"/>
<rect x="521" y="409" width="1" height="2.8" fill="#a2a2a2"/>
<rect x="542" y="409" width="1" height="5.5" fill="#a2a2a2"/>
<rect x="563" y="409" width="1" height="2.8" fill="#a2a2a2"/>
<rect x="584" y="409" width="1" height="2.8" fill="#a2a2a2"/>
<rect x="605" y="409" width="1" height="2.8" fill="#a2a2a2"/>
</g>
<text transform="translate(43.2,425.8) scale(0.94,1)" text-anchor="middle">0.4</text>
<text transform="translate(126.6,425.8) scale(0.94,1)" text-anchor="middle">0.2</text>
<text transform="translate(209.8,425.8) scale(0.94,1)" text-anchor="middle">0.0</text>
<text transform="translate(288.75,425.8) scale(0.94,1)" text-anchor="middle">- 0.2</text>
<text transform="translate(372.5,425.8) scale(0.94,1)" text-anchor="middle">- 0.4</text>
<text transform="translate(455.6,425.8) scale(0.94,1)" text-anchor="middle">- 0.6</text>
<text transform="translate(538.5,425.8) scale(0.94,1)" text-anchor="middle">- 0.8</text>
<text x="606.6" y="425.6" text-anchor="middle" style="font-size:14.5px">[ppm]</text>
</svg>
</body></html>
